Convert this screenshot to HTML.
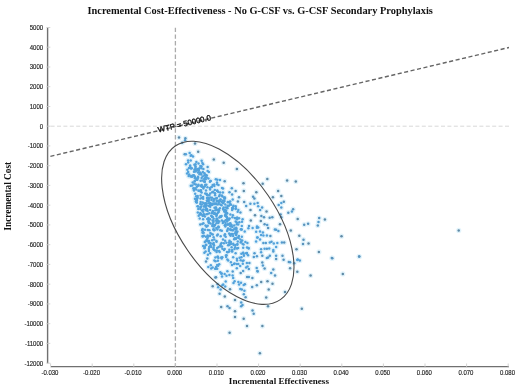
<!DOCTYPE html><html><head><meta charset="utf-8"><style>html,body{margin:0;padding:0;background:#fff;overflow:hidden}svg{display:block;will-change:transform}</style></head><body><svg width="520" height="390" viewBox="0 0 520 390"><rect width="520" height="390" fill="#fff"/><line x1="50.6" y1="126.2" x2="510.5" y2="126.2" stroke="#d8d8d8" stroke-width="1" stroke-dasharray="4 2.4"/><line x1="175.4" y1="27.7" x2="175.4" y2="366" stroke="#ababab" stroke-width="1.3" stroke-dasharray="4.4 2.31"/><g fill="#e2f3fb"><circle cx="179.0" cy="137.4" r="2.6"/><circle cx="185.4" cy="138.3" r="2.6"/><circle cx="185.1" cy="140.3" r="2.6"/><circle cx="182.2" cy="142.8" r="2.6"/><circle cx="195.0" cy="143.5" r="2.6"/><circle cx="198.2" cy="151.7" r="2.6"/><circle cx="213.8" cy="159.4" r="2.6"/><circle cx="223.7" cy="162.8" r="2.6"/><circle cx="187.1" cy="173.4" r="2.6"/><circle cx="236.9" cy="169.0" r="2.6"/><circle cx="267.3" cy="179.0" r="2.6"/><circle cx="243.5" cy="183.2" r="2.6"/><circle cx="243.8" cy="190.9" r="2.6"/><circle cx="256.3" cy="192.2" r="2.6"/><circle cx="262.7" cy="183.8" r="2.6"/><circle cx="278.1" cy="190.9" r="2.6"/><circle cx="287.1" cy="180.6" r="2.6"/><circle cx="253.1" cy="196.7" r="2.6"/><circle cx="254.4" cy="198.6" r="2.6"/><circle cx="272.9" cy="197.3" r="2.6"/><circle cx="281.3" cy="196.0" r="2.6"/><circle cx="254.4" cy="203.7" r="2.6"/><circle cx="257.6" cy="203.1" r="2.6"/><circle cx="278.7" cy="205.0" r="2.6"/><circle cx="281.3" cy="203.1" r="2.6"/><circle cx="283.8" cy="201.8" r="2.6"/><circle cx="258.2" cy="206.3" r="2.6"/><circle cx="281.3" cy="207.6" r="2.6"/><circle cx="262.1" cy="207.6" r="2.6"/><circle cx="260.1" cy="210.1" r="2.6"/><circle cx="266.5" cy="211.4" r="2.6"/><circle cx="261.4" cy="215.9" r="2.6"/><circle cx="264.0" cy="217.2" r="2.6"/><circle cx="269.7" cy="217.8" r="2.6"/><circle cx="272.3" cy="217.2" r="2.6"/><circle cx="280.6" cy="214.6" r="2.6"/><circle cx="288.3" cy="212.7" r="2.6"/><circle cx="281.3" cy="217.2" r="2.6"/><circle cx="260.8" cy="221.0" r="2.6"/><circle cx="264.6" cy="224.2" r="2.6"/><circle cx="267.2" cy="224.9" r="2.6"/><circle cx="280.0" cy="224.2" r="2.6"/><circle cx="258.2" cy="227.4" r="2.6"/><circle cx="274.9" cy="229.4" r="2.6"/><circle cx="260.0" cy="231.5" r="2.6"/><circle cx="262.9" cy="232.6" r="2.6"/><circle cx="268.1" cy="228.0" r="2.6"/><circle cx="276.1" cy="229.7" r="2.6"/><circle cx="278.4" cy="230.9" r="2.6"/><circle cx="261.1" cy="234.9" r="2.6"/><circle cx="263.4" cy="235.5" r="2.6"/><circle cx="266.9" cy="235.5" r="2.6"/><circle cx="270.4" cy="236.1" r="2.6"/><circle cx="260.0" cy="239.5" r="2.6"/><circle cx="263.4" cy="243.0" r="2.6"/><circle cx="265.8" cy="243.0" r="2.6"/><circle cx="269.8" cy="242.4" r="2.6"/><circle cx="271.5" cy="241.8" r="2.6"/><circle cx="273.8" cy="243.6" r="2.6"/><circle cx="277.3" cy="243.0" r="2.6"/><circle cx="281.9" cy="242.4" r="2.6"/><circle cx="284.2" cy="242.4" r="2.6"/><circle cx="276.1" cy="247.0" r="2.6"/><circle cx="261.1" cy="249.3" r="2.6"/><circle cx="264.6" cy="248.8" r="2.6"/><circle cx="266.9" cy="248.8" r="2.6"/><circle cx="269.2" cy="248.5" r="2.6"/><circle cx="273.3" cy="249.9" r="2.6"/><circle cx="273.3" cy="251.6" r="2.6"/><circle cx="261.1" cy="252.2" r="2.6"/><circle cx="262.3" cy="255.7" r="2.6"/><circle cx="268.1" cy="257.4" r="2.6"/><circle cx="269.8" cy="255.7" r="2.6"/><circle cx="276.1" cy="255.7" r="2.6"/><circle cx="282.5" cy="255.7" r="2.6"/><circle cx="266.9" cy="258.0" r="2.6"/><circle cx="276.1" cy="259.1" r="2.6"/><circle cx="283.6" cy="259.7" r="2.6"/><circle cx="262.3" cy="262.6" r="2.6"/><circle cx="262.9" cy="265.5" r="2.6"/><circle cx="288.8" cy="262.0" r="2.6"/><circle cx="264.6" cy="268.4" r="2.6"/><circle cx="273.3" cy="269.5" r="2.6"/><circle cx="212.7" cy="286.2" r="2.6"/><circle cx="244.4" cy="290.8" r="2.6"/><circle cx="219.6" cy="293.7" r="2.6"/><circle cx="224.8" cy="296.6" r="2.6"/><circle cx="243.8" cy="294.3" r="2.6"/><circle cx="245.6" cy="297.2" r="2.6"/><circle cx="271.2" cy="273.0" r="2.6"/><circle cx="275.0" cy="275.5" r="2.6"/><circle cx="261.2" cy="282.0" r="2.6"/><circle cx="267.5" cy="281.2" r="2.6"/><circle cx="272.5" cy="283.7" r="2.6"/><circle cx="268.7" cy="289.5" r="2.6"/><circle cx="266.2" cy="297.5" r="2.6"/><circle cx="285.0" cy="292.0" r="2.6"/><circle cx="235.0" cy="300.0" r="2.6"/><circle cx="241.2" cy="302.5" r="2.6"/><circle cx="221.2" cy="307.0" r="2.6"/><circle cx="227.5" cy="306.2" r="2.6"/><circle cx="229.5" cy="308.0" r="2.6"/><circle cx="241.2" cy="306.2" r="2.6"/><circle cx="242.5" cy="305.0" r="2.6"/><circle cx="268.0" cy="306.2" r="2.6"/><circle cx="235.0" cy="311.2" r="2.6"/><circle cx="252.5" cy="310.5" r="2.6"/><circle cx="253.7" cy="313.7" r="2.6"/><circle cx="235.0" cy="317.0" r="2.6"/><circle cx="243.7" cy="318.7" r="2.6"/><circle cx="247.0" cy="326.1" r="2.6"/><circle cx="262.4" cy="326.1" r="2.6"/><circle cx="229.6" cy="332.7" r="2.6"/><circle cx="259.9" cy="353.2" r="2.6"/><circle cx="295.8" cy="181.5" r="2.6"/><circle cx="293.1" cy="209.2" r="2.6"/><circle cx="291.9" cy="211.5" r="2.6"/><circle cx="297.7" cy="218.9" r="2.6"/><circle cx="319.2" cy="218.0" r="2.6"/><circle cx="324.9" cy="219.6" r="2.6"/><circle cx="318.5" cy="221.9" r="2.6"/><circle cx="304.2" cy="224.7" r="2.6"/><circle cx="308.1" cy="223.8" r="2.6"/><circle cx="317.8" cy="225.4" r="2.6"/><circle cx="290.8" cy="230.5" r="2.6"/><circle cx="299.3" cy="235.8" r="2.6"/><circle cx="341.5" cy="236.2" r="2.6"/><circle cx="303.5" cy="239.7" r="2.6"/><circle cx="303.0" cy="243.9" r="2.6"/><circle cx="308.5" cy="243.4" r="2.6"/><circle cx="296.5" cy="249.2" r="2.6"/><circle cx="318.9" cy="251.9" r="2.6"/><circle cx="332.3" cy="258.2" r="2.6"/><circle cx="297.7" cy="259.5" r="2.6"/><circle cx="290.1" cy="262.2" r="2.6"/><circle cx="294.2" cy="263.2" r="2.6"/><circle cx="297.3" cy="260.1" r="2.6"/><circle cx="299.8" cy="260.5" r="2.6"/><circle cx="290.1" cy="268.3" r="2.6"/><circle cx="297.3" cy="271.8" r="2.6"/><circle cx="310.6" cy="275.5" r="2.6"/><circle cx="331.8" cy="258.1" r="2.6"/><circle cx="359.3" cy="256.6" r="2.6"/><circle cx="342.8" cy="273.9" r="2.6"/><circle cx="301.8" cy="308.7" r="2.6"/><circle cx="458.7" cy="230.4" r="2.6"/><circle cx="359.1" cy="256.5" r="2.6"/><circle cx="244.7" cy="231.5" r="2.6"/><circle cx="212.7" cy="217.1" r="2.6"/><circle cx="209.0" cy="222.3" r="2.6"/><circle cx="235.6" cy="191.0" r="2.6"/><circle cx="225.9" cy="216.0" r="2.6"/><circle cx="209.8" cy="235.8" r="2.6"/><circle cx="243.5" cy="260.6" r="2.6"/><circle cx="222.4" cy="248.8" r="2.6"/><circle cx="233.2" cy="243.7" r="2.6"/><circle cx="221.7" cy="258.4" r="2.6"/><circle cx="208.8" cy="203.3" r="2.6"/><circle cx="209.2" cy="198.8" r="2.6"/><circle cx="204.8" cy="186.6" r="2.6"/><circle cx="202.7" cy="236.6" r="2.6"/><circle cx="208.9" cy="248.9" r="2.6"/><circle cx="210.2" cy="243.1" r="2.6"/><circle cx="196.2" cy="170.6" r="2.6"/><circle cx="204.6" cy="181.5" r="2.6"/><circle cx="221.7" cy="273.4" r="2.6"/><circle cx="211.2" cy="268.6" r="2.6"/><circle cx="233.2" cy="206.7" r="2.6"/><circle cx="234.7" cy="228.5" r="2.6"/><circle cx="223.9" cy="243.3" r="2.6"/><circle cx="233.2" cy="236.1" r="2.6"/><circle cx="231.0" cy="204.7" r="2.6"/><circle cx="209.9" cy="187.9" r="2.6"/><circle cx="212.8" cy="211.0" r="2.6"/><circle cx="229.4" cy="275.0" r="2.6"/><circle cx="214.3" cy="239.4" r="2.6"/><circle cx="205.7" cy="241.3" r="2.6"/><circle cx="235.7" cy="221.6" r="2.6"/><circle cx="198.2" cy="177.8" r="2.6"/><circle cx="217.2" cy="264.9" r="2.6"/><circle cx="228.0" cy="228.5" r="2.6"/><circle cx="203.4" cy="169.0" r="2.6"/><circle cx="208.4" cy="221.4" r="2.6"/><circle cx="203.7" cy="214.6" r="2.6"/><circle cx="213.9" cy="244.9" r="2.6"/><circle cx="209.9" cy="235.9" r="2.6"/><circle cx="201.4" cy="186.2" r="2.6"/><circle cx="200.6" cy="195.4" r="2.6"/><circle cx="244.9" cy="284.2" r="2.6"/><circle cx="218.1" cy="209.5" r="2.6"/><circle cx="211.2" cy="215.7" r="2.6"/><circle cx="201.3" cy="166.6" r="2.6"/><circle cx="238.7" cy="238.0" r="2.6"/><circle cx="200.6" cy="202.0" r="2.6"/><circle cx="207.4" cy="187.3" r="2.6"/><circle cx="194.0" cy="171.7" r="2.6"/><circle cx="224.9" cy="198.5" r="2.6"/><circle cx="234.0" cy="264.0" r="2.6"/><circle cx="207.3" cy="219.0" r="2.6"/><circle cx="193.0" cy="156.4" r="2.6"/><circle cx="211.6" cy="187.0" r="2.6"/><circle cx="209.4" cy="230.3" r="2.6"/><circle cx="236.8" cy="232.5" r="2.6"/><circle cx="205.3" cy="177.2" r="2.6"/><circle cx="208.9" cy="206.0" r="2.6"/><circle cx="243.1" cy="271.0" r="2.6"/><circle cx="206.8" cy="175.4" r="2.6"/><circle cx="191.0" cy="168.4" r="2.6"/><circle cx="219.1" cy="210.2" r="2.6"/><circle cx="236.8" cy="224.3" r="2.6"/><circle cx="199.8" cy="173.1" r="2.6"/><circle cx="238.3" cy="209.9" r="2.6"/><circle cx="203.9" cy="215.4" r="2.6"/><circle cx="212.3" cy="225.8" r="2.6"/><circle cx="218.3" cy="192.0" r="2.6"/><circle cx="210.7" cy="243.4" r="2.6"/><circle cx="237.1" cy="260.4" r="2.6"/><circle cx="193.8" cy="189.7" r="2.6"/><circle cx="217.4" cy="229.5" r="2.6"/><circle cx="200.0" cy="172.5" r="2.6"/><circle cx="203.1" cy="164.3" r="2.6"/><circle cx="247.1" cy="276.9" r="2.6"/><circle cx="192.9" cy="175.5" r="2.6"/><circle cx="190.8" cy="185.7" r="2.6"/><circle cx="219.2" cy="196.3" r="2.6"/><circle cx="216.5" cy="223.3" r="2.6"/><circle cx="227.5" cy="224.6" r="2.6"/><circle cx="234.2" cy="239.2" r="2.6"/><circle cx="231.3" cy="234.0" r="2.6"/><circle cx="198.3" cy="169.7" r="2.6"/><circle cx="198.6" cy="170.8" r="2.6"/><circle cx="256.2" cy="231.8" r="2.6"/><circle cx="204.8" cy="242.1" r="2.6"/><circle cx="213.1" cy="191.7" r="2.6"/><circle cx="201.0" cy="173.4" r="2.6"/><circle cx="236.5" cy="228.8" r="2.6"/><circle cx="211.9" cy="216.4" r="2.6"/><circle cx="213.5" cy="229.2" r="2.6"/><circle cx="200.4" cy="209.1" r="2.6"/><circle cx="216.0" cy="207.8" r="2.6"/><circle cx="206.6" cy="203.4" r="2.6"/><circle cx="207.1" cy="209.2" r="2.6"/><circle cx="233.5" cy="282.9" r="2.6"/><circle cx="248.8" cy="268.9" r="2.6"/><circle cx="210.7" cy="180.9" r="2.6"/><circle cx="201.2" cy="214.3" r="2.6"/><circle cx="202.6" cy="229.0" r="2.6"/><circle cx="194.4" cy="164.7" r="2.6"/><circle cx="217.7" cy="212.9" r="2.6"/><circle cx="227.5" cy="218.2" r="2.6"/><circle cx="228.1" cy="202.3" r="2.6"/><circle cx="201.7" cy="184.9" r="2.6"/><circle cx="234.5" cy="249.1" r="2.6"/><circle cx="240.6" cy="242.5" r="2.6"/><circle cx="216.5" cy="241.7" r="2.6"/><circle cx="226.1" cy="210.6" r="2.6"/><circle cx="189.0" cy="168.0" r="2.6"/><circle cx="241.7" cy="229.6" r="2.6"/><circle cx="204.4" cy="252.8" r="2.6"/><circle cx="227.8" cy="224.6" r="2.6"/><circle cx="222.0" cy="246.5" r="2.6"/><circle cx="227.4" cy="208.3" r="2.6"/><circle cx="195.9" cy="184.5" r="2.6"/><circle cx="212.2" cy="240.2" r="2.6"/><circle cx="242.6" cy="261.1" r="2.6"/><circle cx="196.4" cy="162.1" r="2.6"/><circle cx="190.7" cy="160.5" r="2.6"/><circle cx="221.2" cy="257.4" r="2.6"/><circle cx="224.6" cy="274.1" r="2.6"/><circle cx="199.7" cy="218.5" r="2.6"/><circle cx="213.6" cy="200.1" r="2.6"/><circle cx="196.8" cy="202.4" r="2.6"/><circle cx="203.4" cy="188.5" r="2.6"/><circle cx="222.4" cy="196.4" r="2.6"/><circle cx="239.1" cy="284.4" r="2.6"/><circle cx="197.0" cy="200.1" r="2.6"/><circle cx="201.6" cy="160.7" r="2.6"/><circle cx="256.9" cy="256.3" r="2.6"/><circle cx="220.0" cy="180.0" r="2.6"/><circle cx="221.4" cy="273.8" r="2.6"/><circle cx="220.6" cy="289.5" r="2.6"/><circle cx="192.0" cy="176.8" r="2.6"/><circle cx="233.2" cy="278.0" r="2.6"/><circle cx="241.4" cy="257.3" r="2.6"/><circle cx="220.3" cy="230.2" r="2.6"/><circle cx="234.6" cy="263.6" r="2.6"/><circle cx="212.1" cy="213.3" r="2.6"/><circle cx="234.2" cy="225.5" r="2.6"/><circle cx="227.4" cy="259.4" r="2.6"/><circle cx="201.6" cy="178.0" r="2.6"/><circle cx="185.9" cy="154.2" r="2.6"/><circle cx="225.1" cy="240.8" r="2.6"/><circle cx="225.0" cy="234.3" r="2.6"/><circle cx="214.0" cy="245.4" r="2.6"/><circle cx="215.5" cy="214.1" r="2.6"/><circle cx="197.7" cy="195.9" r="2.6"/><circle cx="225.0" cy="210.1" r="2.6"/><circle cx="192.3" cy="185.5" r="2.6"/><circle cx="200.3" cy="224.5" r="2.6"/><circle cx="203.6" cy="187.1" r="2.6"/><circle cx="196.9" cy="186.7" r="2.6"/><circle cx="212.9" cy="226.3" r="2.6"/><circle cx="200.3" cy="203.9" r="2.6"/><circle cx="232.9" cy="215.2" r="2.6"/><circle cx="201.4" cy="168.2" r="2.6"/><circle cx="232.7" cy="271.5" r="2.6"/><circle cx="246.1" cy="267.5" r="2.6"/><circle cx="243.7" cy="254.1" r="2.6"/><circle cx="243.2" cy="247.8" r="2.6"/><circle cx="223.1" cy="200.5" r="2.6"/><circle cx="208.3" cy="197.8" r="2.6"/><circle cx="237.1" cy="219.3" r="2.6"/><circle cx="199.5" cy="174.2" r="2.6"/><circle cx="204.9" cy="247.0" r="2.6"/><circle cx="256.1" cy="241.6" r="2.6"/><circle cx="222.0" cy="276.5" r="2.6"/><circle cx="226.6" cy="255.2" r="2.6"/><circle cx="249.0" cy="226.0" r="2.6"/><circle cx="206.7" cy="177.6" r="2.6"/><circle cx="214.7" cy="213.0" r="2.6"/><circle cx="198.8" cy="170.0" r="2.6"/><circle cx="203.2" cy="246.1" r="2.6"/><circle cx="214.8" cy="193.2" r="2.6"/><circle cx="218.9" cy="200.8" r="2.6"/><circle cx="195.0" cy="198.7" r="2.6"/><circle cx="214.6" cy="230.1" r="2.6"/><circle cx="223.5" cy="202.5" r="2.6"/><circle cx="232.1" cy="210.0" r="2.6"/><circle cx="256.7" cy="268.1" r="2.6"/><circle cx="234.6" cy="281.2" r="2.6"/><circle cx="186.0" cy="164.3" r="2.6"/><circle cx="202.4" cy="162.9" r="2.6"/><circle cx="205.9" cy="236.8" r="2.6"/><circle cx="195.6" cy="171.4" r="2.6"/><circle cx="201.6" cy="192.4" r="2.6"/><circle cx="212.6" cy="267.5" r="2.6"/><circle cx="194.4" cy="169.7" r="2.6"/><circle cx="198.3" cy="206.4" r="2.6"/><circle cx="238.1" cy="248.0" r="2.6"/><circle cx="205.9" cy="205.2" r="2.6"/><circle cx="224.3" cy="211.4" r="2.6"/><circle cx="241.8" cy="236.7" r="2.6"/><circle cx="238.3" cy="264.0" r="2.6"/><circle cx="190.1" cy="165.6" r="2.6"/><circle cx="227.7" cy="252.3" r="2.6"/><circle cx="247.5" cy="266.4" r="2.6"/><circle cx="232.2" cy="207.9" r="2.6"/><circle cx="246.6" cy="253.2" r="2.6"/><circle cx="236.1" cy="235.0" r="2.6"/><circle cx="231.7" cy="251.3" r="2.6"/><circle cx="243.5" cy="244.6" r="2.6"/><circle cx="221.6" cy="243.1" r="2.6"/><circle cx="202.7" cy="202.6" r="2.6"/><circle cx="227.4" cy="271.3" r="2.6"/><circle cx="241.4" cy="229.4" r="2.6"/><circle cx="206.1" cy="205.5" r="2.6"/><circle cx="228.2" cy="260.5" r="2.6"/><circle cx="236.8" cy="222.6" r="2.6"/><circle cx="225.1" cy="215.8" r="2.6"/><circle cx="214.0" cy="230.2" r="2.6"/><circle cx="208.4" cy="178.5" r="2.6"/><circle cx="218.9" cy="201.9" r="2.6"/><circle cx="230.2" cy="229.3" r="2.6"/><circle cx="198.1" cy="185.7" r="2.6"/><circle cx="240.3" cy="289.0" r="2.6"/><circle cx="218.7" cy="203.7" r="2.6"/><circle cx="200.5" cy="185.7" r="2.6"/><circle cx="197.5" cy="206.2" r="2.6"/><circle cx="223.2" cy="284.5" r="2.6"/><circle cx="218.7" cy="212.0" r="2.6"/><circle cx="207.8" cy="229.9" r="2.6"/><circle cx="205.8" cy="244.8" r="2.6"/><circle cx="223.2" cy="209.0" r="2.6"/><circle cx="214.3" cy="186.0" r="2.6"/><circle cx="206.1" cy="210.3" r="2.6"/><circle cx="246.9" cy="263.1" r="2.6"/><circle cx="229.4" cy="249.7" r="2.6"/><circle cx="220.4" cy="199.4" r="2.6"/><circle cx="232.2" cy="249.9" r="2.6"/><circle cx="217.9" cy="256.7" r="2.6"/><circle cx="198.3" cy="209.1" r="2.6"/><circle cx="236.9" cy="258.8" r="2.6"/><circle cx="207.5" cy="201.3" r="2.6"/><circle cx="200.9" cy="190.5" r="2.6"/><circle cx="230.9" cy="241.9" r="2.6"/><circle cx="246.2" cy="205.9" r="2.6"/><circle cx="187.4" cy="169.7" r="2.6"/><circle cx="229.0" cy="242.4" r="2.6"/><circle cx="216.7" cy="200.6" r="2.6"/><circle cx="229.1" cy="244.6" r="2.6"/><circle cx="231.8" cy="188.3" r="2.6"/><circle cx="200.8" cy="190.6" r="2.6"/><circle cx="210.5" cy="245.2" r="2.6"/><circle cx="229.5" cy="192.2" r="2.6"/><circle cx="207.3" cy="195.3" r="2.6"/><circle cx="225.5" cy="207.4" r="2.6"/><circle cx="236.4" cy="234.0" r="2.6"/><circle cx="189.2" cy="174.4" r="2.6"/><circle cx="202.0" cy="210.6" r="2.6"/><circle cx="199.4" cy="168.2" r="2.6"/><circle cx="223.0" cy="203.2" r="2.6"/><circle cx="198.4" cy="184.7" r="2.6"/><circle cx="209.2" cy="247.1" r="2.6"/><circle cx="228.1" cy="245.3" r="2.6"/><circle cx="227.8" cy="202.1" r="2.6"/><circle cx="203.2" cy="211.8" r="2.6"/><circle cx="232.5" cy="208.9" r="2.6"/><circle cx="241.0" cy="282.7" r="2.6"/><circle cx="206.6" cy="239.9" r="2.6"/><circle cx="235.3" cy="245.1" r="2.6"/><circle cx="221.6" cy="215.9" r="2.6"/><circle cx="202.3" cy="224.1" r="2.6"/><circle cx="237.0" cy="248.5" r="2.6"/><circle cx="215.1" cy="195.3" r="2.6"/><circle cx="206.4" cy="184.7" r="2.6"/><circle cx="218.4" cy="210.8" r="2.6"/><circle cx="223.0" cy="188.6" r="2.6"/><circle cx="235.2" cy="247.3" r="2.6"/><circle cx="195.6" cy="169.8" r="2.6"/><circle cx="216.4" cy="216.0" r="2.6"/><circle cx="204.2" cy="181.6" r="2.6"/><circle cx="205.7" cy="203.8" r="2.6"/><circle cx="214.0" cy="249.7" r="2.6"/><circle cx="210.2" cy="203.0" r="2.6"/><circle cx="217.5" cy="256.8" r="2.6"/><circle cx="208.8" cy="242.9" r="2.6"/><circle cx="241.8" cy="225.9" r="2.6"/><circle cx="225.2" cy="286.4" r="2.6"/><circle cx="232.9" cy="208.2" r="2.6"/><circle cx="209.0" cy="241.1" r="2.6"/><circle cx="237.1" cy="217.6" r="2.6"/><circle cx="213.5" cy="247.5" r="2.6"/><circle cx="233.5" cy="205.8" r="2.6"/><circle cx="197.8" cy="169.0" r="2.6"/><circle cx="213.7" cy="218.8" r="2.6"/><circle cx="212.8" cy="234.5" r="2.6"/><circle cx="216.8" cy="250.5" r="2.6"/><circle cx="224.7" cy="249.0" r="2.6"/><circle cx="207.7" cy="240.8" r="2.6"/><circle cx="223.2" cy="209.4" r="2.6"/><circle cx="248.1" cy="255.2" r="2.6"/><circle cx="204.5" cy="173.2" r="2.6"/><circle cx="225.8" cy="211.4" r="2.6"/><circle cx="200.5" cy="198.5" r="2.6"/><circle cx="206.3" cy="244.9" r="2.6"/><circle cx="211.9" cy="204.9" r="2.6"/><circle cx="195.0" cy="177.5" r="2.6"/><circle cx="188.6" cy="176.1" r="2.6"/><circle cx="232.0" cy="264.9" r="2.6"/><circle cx="238.2" cy="224.5" r="2.6"/><circle cx="196.4" cy="179.8" r="2.6"/><circle cx="210.1" cy="253.3" r="2.6"/><circle cx="232.4" cy="217.2" r="2.6"/><circle cx="246.3" cy="253.3" r="2.6"/><circle cx="206.9" cy="200.6" r="2.6"/><circle cx="205.7" cy="179.2" r="2.6"/><circle cx="253.8" cy="256.9" r="2.6"/><circle cx="213.8" cy="198.9" r="2.6"/><circle cx="227.0" cy="252.0" r="2.6"/><circle cx="206.0" cy="190.5" r="2.6"/><circle cx="235.6" cy="253.3" r="2.6"/><circle cx="202.7" cy="176.4" r="2.6"/><circle cx="205.5" cy="225.6" r="2.6"/><circle cx="190.3" cy="166.8" r="2.6"/><circle cx="211.6" cy="187.0" r="2.6"/><circle cx="214.2" cy="214.1" r="2.6"/><circle cx="245.4" cy="242.0" r="2.6"/><circle cx="217.0" cy="182.6" r="2.6"/><circle cx="247.0" cy="247.5" r="2.6"/><circle cx="252.4" cy="277.9" r="2.6"/><circle cx="217.8" cy="220.5" r="2.6"/><circle cx="209.2" cy="195.2" r="2.6"/><circle cx="200.6" cy="180.7" r="2.6"/><circle cx="217.2" cy="248.1" r="2.6"/><circle cx="226.4" cy="242.8" r="2.6"/><circle cx="215.8" cy="268.8" r="2.6"/><circle cx="204.2" cy="179.0" r="2.6"/><circle cx="206.4" cy="208.6" r="2.6"/><circle cx="246.8" cy="253.2" r="2.6"/><circle cx="217.1" cy="184.3" r="2.6"/><circle cx="197.2" cy="198.2" r="2.6"/><circle cx="252.6" cy="227.9" r="2.6"/><circle cx="215.8" cy="203.4" r="2.6"/><circle cx="226.8" cy="217.3" r="2.6"/><circle cx="243.1" cy="252.8" r="2.6"/><circle cx="225.9" cy="255.6" r="2.6"/><circle cx="220.0" cy="201.2" r="2.6"/><circle cx="239.0" cy="218.3" r="2.6"/><circle cx="243.2" cy="252.9" r="2.6"/><circle cx="212.7" cy="184.9" r="2.6"/><circle cx="209.3" cy="213.2" r="2.6"/><circle cx="204.1" cy="203.6" r="2.6"/><circle cx="223.0" cy="239.4" r="2.6"/><circle cx="216.0" cy="277.3" r="2.6"/><circle cx="203.4" cy="223.3" r="2.6"/><circle cx="208.5" cy="218.1" r="2.6"/><circle cx="219.2" cy="264.2" r="2.6"/><circle cx="214.6" cy="203.6" r="2.6"/><circle cx="229.7" cy="218.4" r="2.6"/><circle cx="204.5" cy="248.2" r="2.6"/><circle cx="198.1" cy="169.9" r="2.6"/><circle cx="227.6" cy="205.8" r="2.6"/><circle cx="207.7" cy="225.8" r="2.6"/><circle cx="228.9" cy="251.8" r="2.6"/><circle cx="241.4" cy="253.7" r="2.6"/><circle cx="239.3" cy="222.2" r="2.6"/><circle cx="225.8" cy="212.4" r="2.6"/><circle cx="215.9" cy="207.5" r="2.6"/><circle cx="201.3" cy="174.6" r="2.6"/><circle cx="203.7" cy="232.7" r="2.6"/><circle cx="249.4" cy="263.1" r="2.6"/><circle cx="203.8" cy="206.5" r="2.6"/><circle cx="214.0" cy="199.4" r="2.6"/><circle cx="202.6" cy="236.0" r="2.6"/><circle cx="205.5" cy="203.2" r="2.6"/><circle cx="198.8" cy="190.7" r="2.6"/><circle cx="207.6" cy="235.4" r="2.6"/><circle cx="227.1" cy="207.6" r="2.6"/><circle cx="194.0" cy="190.6" r="2.6"/><circle cx="242.6" cy="219.3" r="2.6"/><circle cx="204.9" cy="216.6" r="2.6"/><circle cx="215.7" cy="198.6" r="2.6"/><circle cx="198.0" cy="176.7" r="2.6"/><circle cx="240.8" cy="229.3" r="2.6"/><circle cx="200.5" cy="207.2" r="2.6"/><circle cx="233.2" cy="257.3" r="2.6"/><circle cx="216.6" cy="210.1" r="2.6"/><circle cx="218.5" cy="226.7" r="2.6"/><circle cx="208.0" cy="236.7" r="2.6"/><circle cx="248.4" cy="228.3" r="2.6"/><circle cx="199.8" cy="214.2" r="2.6"/><circle cx="236.8" cy="264.0" r="2.6"/><circle cx="224.1" cy="221.5" r="2.6"/><circle cx="232.1" cy="194.6" r="2.6"/><circle cx="237.4" cy="244.0" r="2.6"/><circle cx="215.4" cy="277.4" r="2.6"/><circle cx="243.7" cy="284.9" r="2.6"/><circle cx="238.4" cy="282.0" r="2.6"/><circle cx="207.4" cy="238.4" r="2.6"/><circle cx="218.1" cy="265.8" r="2.6"/><circle cx="195.5" cy="167.8" r="2.6"/><circle cx="219.1" cy="251.0" r="2.6"/><circle cx="213.0" cy="211.7" r="2.6"/><circle cx="254.5" cy="253.2" r="2.6"/><circle cx="194.9" cy="178.2" r="2.6"/><circle cx="205.0" cy="229.8" r="2.6"/><circle cx="255.0" cy="215.3" r="2.6"/><circle cx="235.6" cy="208.9" r="2.6"/><circle cx="194.3" cy="184.0" r="2.6"/><circle cx="222.4" cy="285.3" r="2.6"/><circle cx="224.5" cy="235.4" r="2.6"/><circle cx="196.3" cy="178.5" r="2.6"/><circle cx="200.7" cy="190.5" r="2.6"/><circle cx="195.2" cy="193.8" r="2.6"/><circle cx="218.6" cy="246.9" r="2.6"/><circle cx="208.3" cy="267.0" r="2.6"/><circle cx="252.2" cy="287.1" r="2.6"/><circle cx="247.4" cy="243.1" r="2.6"/><circle cx="231.2" cy="229.8" r="2.6"/><circle cx="232.8" cy="234.1" r="2.6"/><circle cx="235.7" cy="206.3" r="2.6"/><circle cx="220.3" cy="272.3" r="2.6"/><circle cx="218.1" cy="221.1" r="2.6"/><circle cx="217.1" cy="191.1" r="2.6"/><circle cx="242.2" cy="240.5" r="2.6"/><circle cx="228.9" cy="205.7" r="2.6"/><circle cx="198.5" cy="163.5" r="2.6"/><circle cx="242.0" cy="221.8" r="2.6"/><circle cx="215.0" cy="224.9" r="2.6"/><circle cx="201.8" cy="204.5" r="2.6"/><circle cx="195.8" cy="199.5" r="2.6"/><circle cx="223.5" cy="207.4" r="2.6"/><circle cx="257.7" cy="271.5" r="2.6"/><circle cx="244.2" cy="201.9" r="2.6"/><circle cx="235.1" cy="233.6" r="2.6"/><circle cx="235.8" cy="238.9" r="2.6"/><circle cx="240.7" cy="273.0" r="2.6"/><circle cx="217.8" cy="234.5" r="2.6"/><circle cx="227.5" cy="230.1" r="2.6"/><circle cx="221.9" cy="202.1" r="2.6"/><circle cx="224.8" cy="225.3" r="2.6"/><circle cx="218.4" cy="257.9" r="2.6"/><circle cx="216.7" cy="221.6" r="2.6"/><circle cx="215.0" cy="193.5" r="2.6"/><circle cx="197.2" cy="179.1" r="2.6"/><circle cx="206.4" cy="214.2" r="2.6"/><circle cx="204.0" cy="246.5" r="2.6"/><circle cx="231.3" cy="225.5" r="2.6"/><circle cx="243.9" cy="255.8" r="2.6"/><circle cx="235.2" cy="238.6" r="2.6"/><circle cx="208.2" cy="199.8" r="2.6"/><circle cx="207.3" cy="258.6" r="2.6"/><circle cx="215.3" cy="210.2" r="2.6"/><circle cx="213.1" cy="244.1" r="2.6"/><circle cx="216.6" cy="252.1" r="2.6"/><circle cx="222.3" cy="257.3" r="2.6"/><circle cx="220.2" cy="192.5" r="2.6"/><circle cx="197.4" cy="179.7" r="2.6"/><circle cx="227.2" cy="231.1" r="2.6"/><circle cx="193.4" cy="188.2" r="2.6"/><circle cx="235.5" cy="232.1" r="2.6"/><circle cx="214.0" cy="226.6" r="2.6"/><circle cx="225.6" cy="224.9" r="2.6"/><circle cx="214.8" cy="189.9" r="2.6"/><circle cx="257.2" cy="237.4" r="2.6"/><circle cx="210.8" cy="265.3" r="2.6"/><circle cx="206.0" cy="261.4" r="2.6"/><circle cx="242.5" cy="243.8" r="2.6"/><circle cx="237.3" cy="244.8" r="2.6"/><circle cx="203.8" cy="214.3" r="2.6"/><circle cx="210.6" cy="204.3" r="2.6"/><circle cx="216.9" cy="201.6" r="2.6"/><circle cx="227.3" cy="221.4" r="2.6"/><circle cx="206.6" cy="193.8" r="2.6"/><circle cx="217.9" cy="200.9" r="2.6"/><circle cx="220.7" cy="236.2" r="2.6"/><circle cx="196.3" cy="189.6" r="2.6"/><circle cx="195.6" cy="168.8" r="2.6"/><circle cx="194.8" cy="176.5" r="2.6"/><circle cx="204.4" cy="175.2" r="2.6"/><circle cx="232.6" cy="275.4" r="2.6"/><circle cx="205.4" cy="209.4" r="2.6"/><circle cx="212.1" cy="203.8" r="2.6"/><circle cx="229.2" cy="233.5" r="2.6"/><circle cx="212.2" cy="217.1" r="2.6"/><circle cx="205.6" cy="207.0" r="2.6"/><circle cx="224.5" cy="201.1" r="2.6"/><circle cx="200.4" cy="213.1" r="2.6"/><circle cx="212.1" cy="212.6" r="2.6"/><circle cx="216.1" cy="266.9" r="2.6"/><circle cx="246.9" cy="253.0" r="2.6"/><circle cx="208.6" cy="220.0" r="2.6"/><circle cx="212.0" cy="197.7" r="2.6"/><circle cx="230.4" cy="223.3" r="2.6"/><circle cx="230.0" cy="289.2" r="2.6"/><circle cx="224.5" cy="211.2" r="2.6"/><circle cx="232.7" cy="199.5" r="2.6"/><circle cx="214.5" cy="207.8" r="2.6"/><circle cx="209.9" cy="181.7" r="2.6"/><circle cx="240.2" cy="266.0" r="2.6"/><circle cx="230.2" cy="201.5" r="2.6"/><circle cx="208.9" cy="171.9" r="2.6"/><circle cx="230.7" cy="235.8" r="2.6"/><circle cx="213.8" cy="204.2" r="2.6"/><circle cx="227.0" cy="212.9" r="2.6"/><circle cx="202.8" cy="171.9" r="2.6"/><circle cx="222.9" cy="192.6" r="2.6"/><circle cx="256.9" cy="227.8" r="2.6"/><circle cx="232.1" cy="230.3" r="2.6"/><circle cx="232.3" cy="251.5" r="2.6"/><circle cx="208.9" cy="222.9" r="2.6"/><circle cx="203.9" cy="235.8" r="2.6"/><circle cx="236.1" cy="229.7" r="2.6"/><circle cx="206.5" cy="226.8" r="2.6"/><circle cx="210.2" cy="210.1" r="2.6"/><circle cx="216.5" cy="218.8" r="2.6"/><circle cx="229.0" cy="224.5" r="2.6"/><circle cx="220.9" cy="217.1" r="2.6"/><circle cx="226.5" cy="275.7" r="2.6"/><circle cx="257.4" cy="271.0" r="2.6"/><circle cx="221.9" cy="195.5" r="2.6"/><circle cx="215.8" cy="179.3" r="2.6"/><circle cx="231.6" cy="247.3" r="2.6"/><circle cx="241.1" cy="241.8" r="2.6"/><circle cx="215.4" cy="257.6" r="2.6"/><circle cx="201.8" cy="186.7" r="2.6"/><circle cx="212.6" cy="220.6" r="2.6"/><circle cx="207.3" cy="195.0" r="2.6"/><circle cx="216.2" cy="204.2" r="2.6"/><circle cx="217.1" cy="235.5" r="2.6"/><circle cx="207.6" cy="166.9" r="2.6"/><circle cx="195.9" cy="201.2" r="2.6"/><circle cx="191.4" cy="155.2" r="2.6"/><circle cx="202.7" cy="215.9" r="2.6"/><circle cx="194.7" cy="181.1" r="2.6"/><circle cx="220.3" cy="216.2" r="2.6"/><circle cx="236.8" cy="268.2" r="2.6"/><circle cx="206.0" cy="175.1" r="2.6"/><circle cx="257.6" cy="237.5" r="2.6"/><circle cx="220.3" cy="245.4" r="2.6"/><circle cx="212.2" cy="192.3" r="2.6"/><circle cx="198.6" cy="190.7" r="2.6"/><circle cx="210.4" cy="232.9" r="2.6"/><circle cx="233.1" cy="230.3" r="2.6"/><circle cx="203.3" cy="209.6" r="2.6"/><circle cx="234.8" cy="218.0" r="2.6"/><circle cx="237.4" cy="231.4" r="2.6"/><circle cx="227.2" cy="213.6" r="2.6"/><circle cx="189.6" cy="167.7" r="2.6"/><circle cx="220.7" cy="199.8" r="2.6"/><circle cx="198.7" cy="215.7" r="2.6"/><circle cx="248.5" cy="247.9" r="2.6"/><circle cx="256.8" cy="285.3" r="2.6"/><circle cx="196.1" cy="202.0" r="2.6"/><circle cx="224.0" cy="249.9" r="2.6"/><circle cx="202.4" cy="180.4" r="2.6"/><circle cx="192.7" cy="182.6" r="2.6"/><circle cx="229.7" cy="223.7" r="2.6"/><circle cx="214.2" cy="184.6" r="2.6"/><circle cx="238.9" cy="235.9" r="2.6"/><circle cx="193.9" cy="175.3" r="2.6"/><circle cx="230.8" cy="226.3" r="2.6"/><circle cx="226.4" cy="220.6" r="2.6"/><circle cx="210.2" cy="193.4" r="2.6"/><circle cx="230.8" cy="244.0" r="2.6"/><circle cx="202.6" cy="232.7" r="2.6"/><circle cx="202.2" cy="230.3" r="2.6"/><circle cx="200.6" cy="191.6" r="2.6"/><circle cx="210.5" cy="223.6" r="2.6"/><circle cx="213.6" cy="221.1" r="2.6"/><circle cx="239.6" cy="257.8" r="2.6"/><circle cx="227.2" cy="219.4" r="2.6"/><circle cx="257.0" cy="226.5" r="2.6"/><circle cx="225.4" cy="226.6" r="2.6"/><circle cx="201.0" cy="214.5" r="2.6"/><circle cx="203.1" cy="197.1" r="2.6"/><circle cx="230.5" cy="230.0" r="2.6"/><circle cx="221.5" cy="205.2" r="2.6"/><circle cx="204.5" cy="206.3" r="2.6"/><circle cx="213.6" cy="237.2" r="2.6"/><circle cx="203.3" cy="236.0" r="2.6"/><circle cx="201.3" cy="166.4" r="2.6"/><circle cx="205.2" cy="193.6" r="2.6"/><circle cx="210.0" cy="219.3" r="2.6"/><circle cx="219.6" cy="251.9" r="2.6"/><circle cx="197.5" cy="197.5" r="2.6"/><circle cx="233.6" cy="245.1" r="2.6"/><circle cx="189.6" cy="152.9" r="2.6"/><circle cx="230.2" cy="203.9" r="2.6"/><circle cx="240.4" cy="239.6" r="2.6"/><circle cx="202.8" cy="231.9" r="2.6"/><circle cx="220.3" cy="204.6" r="2.6"/><circle cx="190.7" cy="155.7" r="2.6"/><circle cx="219.3" cy="217.5" r="2.6"/><circle cx="206.7" cy="205.5" r="2.6"/><circle cx="211.4" cy="200.0" r="2.6"/><circle cx="203.2" cy="198.8" r="2.6"/><circle cx="196.1" cy="196.3" r="2.6"/><circle cx="205.6" cy="251.4" r="2.6"/><circle cx="218.3" cy="222.9" r="2.6"/><circle cx="240.4" cy="212.4" r="2.6"/><circle cx="228.9" cy="219.8" r="2.6"/><circle cx="214.4" cy="260.6" r="2.6"/><circle cx="224.7" cy="181.2" r="2.6"/><circle cx="229.5" cy="240.8" r="2.6"/><circle cx="235.6" cy="218.2" r="2.6"/><circle cx="197.8" cy="212.4" r="2.6"/><circle cx="202.3" cy="229.9" r="2.6"/><circle cx="224.5" cy="198.5" r="2.6"/><circle cx="213.3" cy="222.6" r="2.6"/><circle cx="230.4" cy="226.2" r="2.6"/><circle cx="225.5" cy="214.3" r="2.6"/><circle cx="235.9" cy="208.3" r="2.6"/><circle cx="200.3" cy="166.0" r="2.6"/><circle cx="208.9" cy="251.1" r="2.6"/><circle cx="229.9" cy="234.7" r="2.6"/><circle cx="213.6" cy="229.5" r="2.6"/><circle cx="196.6" cy="202.2" r="2.6"/><circle cx="220.8" cy="243.9" r="2.6"/><circle cx="234.5" cy="228.9" r="2.6"/><circle cx="216.9" cy="198.1" r="2.6"/><circle cx="234.8" cy="238.3" r="2.6"/><circle cx="237.7" cy="211.8" r="2.6"/><circle cx="225.5" cy="223.0" r="2.6"/><circle cx="216.8" cy="214.7" r="2.6"/><circle cx="210.4" cy="197.6" r="2.6"/><circle cx="248.8" cy="276.9" r="2.6"/><circle cx="237.9" cy="201.5" r="2.6"/><circle cx="215.5" cy="261.2" r="2.6"/><circle cx="213.4" cy="248.9" r="2.6"/><circle cx="215.0" cy="250.6" r="2.6"/><circle cx="218.2" cy="287.2" r="2.6"/><circle cx="241.8" cy="289.6" r="2.6"/><circle cx="198.0" cy="172.4" r="2.6"/><circle cx="215.1" cy="268.8" r="2.6"/><circle cx="207.9" cy="254.8" r="2.6"/><circle cx="206.6" cy="194.6" r="2.6"/><circle cx="207.6" cy="171.1" r="2.6"/><circle cx="219.7" cy="195.1" r="2.6"/><circle cx="195.1" cy="188.3" r="2.6"/><circle cx="230.5" cy="244.0" r="2.6"/><circle cx="217.8" cy="204.5" r="2.6"/><circle cx="250.5" cy="210.1" r="2.6"/><circle cx="240.7" cy="260.2" r="2.6"/><circle cx="236.2" cy="227.7" r="2.6"/><circle cx="188.2" cy="172.1" r="2.6"/><circle cx="237.3" cy="237.5" r="2.6"/><circle cx="191.8" cy="168.2" r="2.6"/><circle cx="225.3" cy="204.5" r="2.6"/><circle cx="239.0" cy="197.3" r="2.6"/><circle cx="210.2" cy="206.7" r="2.6"/><circle cx="216.3" cy="228.1" r="2.6"/><circle cx="218.6" cy="227.5" r="2.6"/><circle cx="210.1" cy="189.4" r="2.6"/><circle cx="220.7" cy="246.5" r="2.6"/><circle cx="190.6" cy="176.6" r="2.6"/><circle cx="230.4" cy="214.6" r="2.6"/><circle cx="209.9" cy="205.2" r="2.6"/><circle cx="217.2" cy="268.8" r="2.6"/><circle cx="213.6" cy="243.0" r="2.6"/><circle cx="217.9" cy="260.7" r="2.6"/><circle cx="230.9" cy="262.2" r="2.6"/><circle cx="194.7" cy="181.4" r="2.6"/><circle cx="210.3" cy="180.9" r="2.6"/><circle cx="223.2" cy="222.0" r="2.6"/><circle cx="250.8" cy="220.4" r="2.6"/><circle cx="184.7" cy="154.3" r="2.6"/><circle cx="201.1" cy="206.5" r="2.6"/><circle cx="207.7" cy="218.9" r="2.6"/><circle cx="188.1" cy="160.4" r="2.6"/><circle cx="212.8" cy="224.3" r="2.6"/><circle cx="224.2" cy="197.5" r="2.6"/><circle cx="237.8" cy="241.5" r="2.6"/><circle cx="229.3" cy="201.9" r="2.6"/><circle cx="195.5" cy="166.2" r="2.6"/><circle cx="218.5" cy="185.0" r="2.6"/><circle cx="225.1" cy="210.9" r="2.6"/><circle cx="250.4" cy="203.7" r="2.6"/><circle cx="232.4" cy="227.0" r="2.6"/><circle cx="207.6" cy="214.0" r="2.6"/><circle cx="217.3" cy="190.6" r="2.6"/><circle cx="216.4" cy="240.9" r="2.6"/><circle cx="221.8" cy="230.8" r="2.6"/><circle cx="195.5" cy="164.2" r="2.6"/><circle cx="217.1" cy="218.8" r="2.6"/><circle cx="213.5" cy="201.4" r="2.6"/><circle cx="204.8" cy="181.7" r="2.6"/><circle cx="226.1" cy="256.9" r="2.6"/><circle cx="225.6" cy="220.2" r="2.6"/><circle cx="207.6" cy="211.1" r="2.6"/><circle cx="207.0" cy="197.9" r="2.6"/><circle cx="217.6" cy="284.2" r="2.6"/><circle cx="216.6" cy="214.2" r="2.6"/><circle cx="205.2" cy="184.8" r="2.6"/><circle cx="216.2" cy="220.5" r="2.6"/><circle cx="211.9" cy="204.6" r="2.6"/><circle cx="225.7" cy="281.6" r="2.6"/><circle cx="224.9" cy="197.5" r="2.6"/><circle cx="191.1" cy="176.1" r="2.6"/><circle cx="203.1" cy="219.3" r="2.6"/><circle cx="242.8" cy="263.7" r="2.6"/><circle cx="229.1" cy="244.9" r="2.6"/><circle cx="226.6" cy="216.6" r="2.6"/><circle cx="211.6" cy="234.0" r="2.6"/><circle cx="205.1" cy="203.9" r="2.6"/><circle cx="188.2" cy="162.4" r="2.6"/><circle cx="222.8" cy="223.1" r="2.6"/><circle cx="218.3" cy="226.7" r="2.6"/><circle cx="219.3" cy="221.4" r="2.6"/><circle cx="225.7" cy="236.7" r="2.6"/><circle cx="202.3" cy="186.4" r="2.6"/><circle cx="221.9" cy="220.5" r="2.6"/><circle cx="207.6" cy="241.3" r="2.6"/><circle cx="248.7" cy="248.4" r="2.6"/><circle cx="202.1" cy="197.7" r="2.6"/><circle cx="219.9" cy="208.3" r="2.6"/><circle cx="208.8" cy="201.0" r="2.6"/><circle cx="222.0" cy="188.0" r="2.6"/><circle cx="217.4" cy="179.8" r="2.6"/><circle cx="231.5" cy="225.0" r="2.6"/><circle cx="192.3" cy="175.9" r="2.6"/><circle cx="211.1" cy="247.0" r="2.6"/></g><g fill="#5f8aa6"><circle cx="179.0" cy="137.4" r="1.25"/><circle cx="195.0" cy="143.5" r="1.25"/><circle cx="198.2" cy="151.7" r="1.25"/><circle cx="213.8" cy="159.4" r="1.25"/><circle cx="223.7" cy="162.8" r="1.25"/><circle cx="236.9" cy="169.0" r="1.25"/><circle cx="267.3" cy="179.0" r="1.25"/><circle cx="243.5" cy="183.2" r="1.25"/><circle cx="243.8" cy="190.9" r="1.25"/><circle cx="256.3" cy="192.2" r="1.25"/><circle cx="262.7" cy="183.8" r="1.25"/><circle cx="278.1" cy="190.9" r="1.25"/><circle cx="287.1" cy="180.6" r="1.25"/><circle cx="272.9" cy="197.3" r="1.25"/><circle cx="281.3" cy="196.0" r="1.25"/><circle cx="266.5" cy="211.4" r="1.25"/><circle cx="260.8" cy="221.0" r="1.25"/><circle cx="280.0" cy="224.2" r="1.25"/><circle cx="212.7" cy="286.2" r="1.25"/><circle cx="224.8" cy="296.6" r="1.25"/><circle cx="261.2" cy="282.0" r="1.25"/><circle cx="267.5" cy="281.2" r="1.25"/><circle cx="272.5" cy="283.7" r="1.25"/><circle cx="268.7" cy="289.5" r="1.25"/><circle cx="266.2" cy="297.5" r="1.25"/><circle cx="285.0" cy="292.0" r="1.25"/><circle cx="235.0" cy="300.0" r="1.25"/><circle cx="221.2" cy="307.0" r="1.25"/><circle cx="268.0" cy="306.2" r="1.25"/><circle cx="235.0" cy="311.2" r="1.25"/><circle cx="235.0" cy="317.0" r="1.25"/><circle cx="243.7" cy="318.7" r="1.25"/><circle cx="247.0" cy="326.1" r="1.25"/><circle cx="262.4" cy="326.1" r="1.25"/><circle cx="229.6" cy="332.7" r="1.25"/><circle cx="259.9" cy="353.2" r="1.25"/><circle cx="295.8" cy="181.5" r="1.25"/><circle cx="297.7" cy="218.9" r="1.25"/><circle cx="324.9" cy="219.6" r="1.25"/><circle cx="290.8" cy="230.5" r="1.25"/><circle cx="299.3" cy="235.8" r="1.25"/><circle cx="341.5" cy="236.2" r="1.25"/><circle cx="308.5" cy="243.4" r="1.25"/><circle cx="296.5" cy="249.2" r="1.25"/><circle cx="318.9" cy="251.9" r="1.25"/><circle cx="290.1" cy="268.3" r="1.25"/><circle cx="297.3" cy="271.8" r="1.25"/><circle cx="310.6" cy="275.5" r="1.25"/><circle cx="342.8" cy="273.9" r="1.25"/><circle cx="301.8" cy="308.7" r="1.25"/><circle cx="458.7" cy="230.4" r="1.25"/><circle cx="255.0" cy="215.3" r="1.25"/><circle cx="230.0" cy="289.2" r="1.25"/><circle cx="250.5" cy="210.1" r="1.25"/><circle cx="250.8" cy="220.4" r="1.25"/></g><g fill="#5893bd"><circle cx="185.4" cy="138.3" r="1.25"/><circle cx="182.2" cy="142.8" r="1.25"/><circle cx="253.1" cy="196.7" r="1.25"/><circle cx="254.4" cy="198.6" r="1.25"/><circle cx="283.8" cy="201.8" r="1.25"/><circle cx="261.4" cy="215.9" r="1.25"/><circle cx="264.0" cy="217.2" r="1.25"/><circle cx="269.7" cy="217.8" r="1.25"/><circle cx="272.3" cy="217.2" r="1.25"/><circle cx="280.6" cy="214.6" r="1.25"/><circle cx="288.3" cy="212.7" r="1.25"/><circle cx="281.3" cy="217.2" r="1.25"/><circle cx="264.6" cy="224.2" r="1.25"/><circle cx="268.1" cy="228.0" r="1.25"/><circle cx="270.4" cy="236.1" r="1.25"/><circle cx="284.2" cy="242.4" r="1.25"/><circle cx="262.3" cy="255.7" r="1.25"/><circle cx="282.5" cy="255.7" r="1.25"/><circle cx="276.1" cy="259.1" r="1.25"/><circle cx="283.6" cy="259.7" r="1.25"/><circle cx="262.3" cy="262.6" r="1.25"/><circle cx="288.8" cy="262.0" r="1.25"/><circle cx="264.6" cy="268.4" r="1.25"/><circle cx="273.3" cy="269.5" r="1.25"/><circle cx="219.6" cy="293.7" r="1.25"/><circle cx="245.6" cy="297.2" r="1.25"/><circle cx="275.0" cy="275.5" r="1.25"/><circle cx="227.5" cy="306.2" r="1.25"/><circle cx="229.5" cy="308.0" r="1.25"/><circle cx="252.5" cy="310.5" r="1.25"/><circle cx="253.7" cy="313.7" r="1.25"/><circle cx="293.1" cy="209.2" r="1.25"/><circle cx="319.2" cy="218.0" r="1.25"/><circle cx="304.2" cy="224.7" r="1.25"/><circle cx="308.1" cy="223.8" r="1.25"/><circle cx="317.8" cy="225.4" r="1.25"/><circle cx="303.5" cy="239.7" r="1.25"/><circle cx="303.0" cy="243.9" r="1.25"/><circle cx="332.3" cy="258.2" r="1.25"/><circle cx="331.8" cy="258.1" r="1.25"/><circle cx="359.3" cy="256.6" r="1.25"/><circle cx="359.1" cy="256.5" r="1.25"/><circle cx="235.6" cy="191.0" r="1.25"/><circle cx="247.1" cy="276.9" r="1.25"/><circle cx="252.4" cy="277.9" r="1.25"/><circle cx="216.0" cy="277.3" r="1.25"/><circle cx="215.4" cy="277.4" r="1.25"/><circle cx="252.2" cy="287.1" r="1.25"/><circle cx="244.2" cy="201.9" r="1.25"/><circle cx="240.7" cy="273.0" r="1.25"/><circle cx="206.0" cy="261.4" r="1.25"/><circle cx="256.8" cy="285.3" r="1.25"/><circle cx="224.7" cy="181.2" r="1.25"/><circle cx="237.9" cy="201.5" r="1.25"/><circle cx="239.0" cy="197.3" r="1.25"/><circle cx="184.7" cy="154.3" r="1.25"/></g><g fill="#539bcf"><circle cx="185.1" cy="140.3" r="1.25"/><circle cx="257.6" cy="203.1" r="1.25"/><circle cx="278.7" cy="205.0" r="1.25"/><circle cx="281.3" cy="207.6" r="1.25"/><circle cx="262.1" cy="207.6" r="1.25"/><circle cx="260.1" cy="210.1" r="1.25"/><circle cx="267.2" cy="224.9" r="1.25"/><circle cx="274.9" cy="229.4" r="1.25"/><circle cx="276.1" cy="229.7" r="1.25"/><circle cx="278.4" cy="230.9" r="1.25"/><circle cx="263.4" cy="243.0" r="1.25"/><circle cx="265.8" cy="243.0" r="1.25"/><circle cx="271.5" cy="241.8" r="1.25"/><circle cx="281.9" cy="242.4" r="1.25"/><circle cx="261.1" cy="249.3" r="1.25"/><circle cx="266.9" cy="248.8" r="1.25"/><circle cx="273.3" cy="251.6" r="1.25"/><circle cx="268.1" cy="257.4" r="1.25"/><circle cx="269.8" cy="255.7" r="1.25"/><circle cx="276.1" cy="255.7" r="1.25"/><circle cx="266.9" cy="258.0" r="1.25"/><circle cx="262.9" cy="265.5" r="1.25"/><circle cx="243.8" cy="294.3" r="1.25"/><circle cx="271.2" cy="273.0" r="1.25"/><circle cx="241.2" cy="302.5" r="1.25"/><circle cx="241.2" cy="306.2" r="1.25"/><circle cx="242.5" cy="305.0" r="1.25"/><circle cx="291.9" cy="211.5" r="1.25"/><circle cx="318.5" cy="221.9" r="1.25"/><circle cx="297.7" cy="259.5" r="1.25"/><circle cx="290.1" cy="262.2" r="1.25"/><circle cx="294.2" cy="263.2" r="1.25"/><circle cx="299.8" cy="260.5" r="1.25"/><circle cx="244.9" cy="284.2" r="1.25"/><circle cx="243.1" cy="271.0" r="1.25"/><circle cx="248.8" cy="268.9" r="1.25"/><circle cx="256.9" cy="256.3" r="1.25"/><circle cx="200.3" cy="224.5" r="1.25"/><circle cx="232.7" cy="271.5" r="1.25"/><circle cx="249.0" cy="226.0" r="1.25"/><circle cx="256.7" cy="268.1" r="1.25"/><circle cx="246.2" cy="205.9" r="1.25"/><circle cx="231.8" cy="188.3" r="1.25"/><circle cx="229.5" cy="192.2" r="1.25"/><circle cx="253.8" cy="256.9" r="1.25"/><circle cx="249.4" cy="263.1" r="1.25"/><circle cx="232.1" cy="194.6" r="1.25"/><circle cx="254.5" cy="253.2" r="1.25"/><circle cx="257.7" cy="271.5" r="1.25"/><circle cx="207.3" cy="258.6" r="1.25"/><circle cx="257.4" cy="271.0" r="1.25"/><circle cx="207.6" cy="166.9" r="1.25"/><circle cx="240.4" cy="212.4" r="1.25"/><circle cx="248.8" cy="276.9" r="1.25"/><circle cx="241.8" cy="289.6" r="1.25"/><circle cx="250.4" cy="203.7" r="1.25"/><circle cx="217.6" cy="284.2" r="1.25"/></g><g fill="#52a2dc"><circle cx="187.1" cy="173.4" r="1.25"/><circle cx="254.4" cy="203.7" r="1.25"/><circle cx="281.3" cy="203.1" r="1.25"/><circle cx="258.2" cy="206.3" r="1.25"/><circle cx="258.2" cy="227.4" r="1.25"/><circle cx="260.0" cy="231.5" r="1.25"/><circle cx="262.9" cy="232.6" r="1.25"/><circle cx="261.1" cy="234.9" r="1.25"/><circle cx="263.4" cy="235.5" r="1.25"/><circle cx="266.9" cy="235.5" r="1.25"/><circle cx="260.0" cy="239.5" r="1.25"/><circle cx="269.8" cy="242.4" r="1.25"/><circle cx="273.8" cy="243.6" r="1.25"/><circle cx="277.3" cy="243.0" r="1.25"/><circle cx="276.1" cy="247.0" r="1.25"/><circle cx="264.6" cy="248.8" r="1.25"/><circle cx="269.2" cy="248.5" r="1.25"/><circle cx="273.3" cy="249.9" r="1.25"/><circle cx="261.1" cy="252.2" r="1.25"/><circle cx="244.4" cy="290.8" r="1.25"/><circle cx="297.3" cy="260.1" r="1.25"/><circle cx="244.7" cy="231.5" r="1.25"/><circle cx="212.7" cy="217.1" r="1.25"/><circle cx="209.0" cy="222.3" r="1.25"/><circle cx="225.9" cy="216.0" r="1.25"/><circle cx="209.8" cy="235.8" r="1.25"/><circle cx="243.5" cy="260.6" r="1.25"/><circle cx="222.4" cy="248.8" r="1.25"/><circle cx="233.2" cy="243.7" r="1.25"/><circle cx="221.7" cy="258.4" r="1.25"/><circle cx="208.8" cy="203.3" r="1.25"/><circle cx="209.2" cy="198.8" r="1.25"/><circle cx="204.8" cy="186.6" r="1.25"/><circle cx="202.7" cy="236.6" r="1.25"/><circle cx="208.9" cy="248.9" r="1.25"/><circle cx="210.2" cy="243.1" r="1.25"/><circle cx="196.2" cy="170.6" r="1.25"/><circle cx="204.6" cy="181.5" r="1.25"/><circle cx="221.7" cy="273.4" r="1.25"/><circle cx="211.2" cy="268.6" r="1.25"/><circle cx="233.2" cy="206.7" r="1.25"/><circle cx="234.7" cy="228.5" r="1.25"/><circle cx="223.9" cy="243.3" r="1.25"/><circle cx="233.2" cy="236.1" r="1.25"/><circle cx="231.0" cy="204.7" r="1.25"/><circle cx="209.9" cy="187.9" r="1.25"/><circle cx="212.8" cy="211.0" r="1.25"/><circle cx="229.4" cy="275.0" r="1.25"/><circle cx="214.3" cy="239.4" r="1.25"/><circle cx="205.7" cy="241.3" r="1.25"/><circle cx="235.7" cy="221.6" r="1.25"/><circle cx="198.2" cy="177.8" r="1.25"/><circle cx="217.2" cy="264.9" r="1.25"/><circle cx="228.0" cy="228.5" r="1.25"/><circle cx="203.4" cy="169.0" r="1.25"/><circle cx="208.4" cy="221.4" r="1.25"/><circle cx="203.7" cy="214.6" r="1.25"/><circle cx="213.9" cy="244.9" r="1.25"/><circle cx="209.9" cy="235.9" r="1.25"/><circle cx="201.4" cy="186.2" r="1.25"/><circle cx="200.6" cy="195.4" r="1.25"/><circle cx="218.1" cy="209.5" r="1.25"/><circle cx="211.2" cy="215.7" r="1.25"/><circle cx="201.3" cy="166.6" r="1.25"/><circle cx="238.7" cy="238.0" r="1.25"/><circle cx="200.6" cy="202.0" r="1.25"/><circle cx="207.4" cy="187.3" r="1.25"/><circle cx="194.0" cy="171.7" r="1.25"/><circle cx="224.9" cy="198.5" r="1.25"/><circle cx="234.0" cy="264.0" r="1.25"/><circle cx="207.3" cy="219.0" r="1.25"/><circle cx="193.0" cy="156.4" r="1.25"/><circle cx="211.6" cy="187.0" r="1.25"/><circle cx="209.4" cy="230.3" r="1.25"/><circle cx="236.8" cy="232.5" r="1.25"/><circle cx="205.3" cy="177.2" r="1.25"/><circle cx="208.9" cy="206.0" r="1.25"/><circle cx="206.8" cy="175.4" r="1.25"/><circle cx="191.0" cy="168.4" r="1.25"/><circle cx="219.1" cy="210.2" r="1.25"/><circle cx="236.8" cy="224.3" r="1.25"/><circle cx="199.8" cy="173.1" r="1.25"/><circle cx="238.3" cy="209.9" r="1.25"/><circle cx="203.9" cy="215.4" r="1.25"/><circle cx="212.3" cy="225.8" r="1.25"/><circle cx="218.3" cy="192.0" r="1.25"/><circle cx="210.7" cy="243.4" r="1.25"/><circle cx="237.1" cy="260.4" r="1.25"/><circle cx="193.8" cy="189.7" r="1.25"/><circle cx="217.4" cy="229.5" r="1.25"/><circle cx="200.0" cy="172.5" r="1.25"/><circle cx="203.1" cy="164.3" r="1.25"/><circle cx="192.9" cy="175.5" r="1.25"/><circle cx="190.8" cy="185.7" r="1.25"/><circle cx="219.2" cy="196.3" r="1.25"/><circle cx="216.5" cy="223.3" r="1.25"/><circle cx="227.5" cy="224.6" r="1.25"/><circle cx="234.2" cy="239.2" r="1.25"/><circle cx="231.3" cy="234.0" r="1.25"/><circle cx="198.3" cy="169.7" r="1.25"/><circle cx="198.6" cy="170.8" r="1.25"/><circle cx="256.2" cy="231.8" r="1.25"/><circle cx="204.8" cy="242.1" r="1.25"/><circle cx="213.1" cy="191.7" r="1.25"/><circle cx="201.0" cy="173.4" r="1.25"/><circle cx="236.5" cy="228.8" r="1.25"/><circle cx="211.9" cy="216.4" r="1.25"/><circle cx="213.5" cy="229.2" r="1.25"/><circle cx="200.4" cy="209.1" r="1.25"/><circle cx="216.0" cy="207.8" r="1.25"/><circle cx="206.6" cy="203.4" r="1.25"/><circle cx="207.1" cy="209.2" r="1.25"/><circle cx="233.5" cy="282.9" r="1.25"/><circle cx="210.7" cy="180.9" r="1.25"/><circle cx="201.2" cy="214.3" r="1.25"/><circle cx="202.6" cy="229.0" r="1.25"/><circle cx="194.4" cy="164.7" r="1.25"/><circle cx="217.7" cy="212.9" r="1.25"/><circle cx="227.5" cy="218.2" r="1.25"/><circle cx="228.1" cy="202.3" r="1.25"/><circle cx="201.7" cy="184.9" r="1.25"/><circle cx="234.5" cy="249.1" r="1.25"/><circle cx="240.6" cy="242.5" r="1.25"/><circle cx="216.5" cy="241.7" r="1.25"/><circle cx="226.1" cy="210.6" r="1.25"/><circle cx="189.0" cy="168.0" r="1.25"/><circle cx="241.7" cy="229.6" r="1.25"/><circle cx="204.4" cy="252.8" r="1.25"/><circle cx="227.8" cy="224.6" r="1.25"/><circle cx="222.0" cy="246.5" r="1.25"/><circle cx="227.4" cy="208.3" r="1.25"/><circle cx="195.9" cy="184.5" r="1.25"/><circle cx="212.2" cy="240.2" r="1.25"/><circle cx="242.6" cy="261.1" r="1.25"/><circle cx="196.4" cy="162.1" r="1.25"/><circle cx="190.7" cy="160.5" r="1.25"/><circle cx="221.2" cy="257.4" r="1.25"/><circle cx="224.6" cy="274.1" r="1.25"/><circle cx="199.7" cy="218.5" r="1.25"/><circle cx="213.6" cy="200.1" r="1.25"/><circle cx="196.8" cy="202.4" r="1.25"/><circle cx="203.4" cy="188.5" r="1.25"/><circle cx="222.4" cy="196.4" r="1.25"/><circle cx="239.1" cy="284.4" r="1.25"/><circle cx="197.0" cy="200.1" r="1.25"/><circle cx="201.6" cy="160.7" r="1.25"/><circle cx="220.0" cy="180.0" r="1.25"/><circle cx="221.4" cy="273.8" r="1.25"/><circle cx="220.6" cy="289.5" r="1.25"/><circle cx="192.0" cy="176.8" r="1.25"/><circle cx="233.2" cy="278.0" r="1.25"/><circle cx="241.4" cy="257.3" r="1.25"/><circle cx="220.3" cy="230.2" r="1.25"/><circle cx="234.6" cy="263.6" r="1.25"/><circle cx="212.1" cy="213.3" r="1.25"/><circle cx="234.2" cy="225.5" r="1.25"/><circle cx="227.4" cy="259.4" r="1.25"/><circle cx="201.6" cy="178.0" r="1.25"/><circle cx="185.9" cy="154.2" r="1.25"/><circle cx="225.1" cy="240.8" r="1.25"/><circle cx="225.0" cy="234.3" r="1.25"/><circle cx="214.0" cy="245.4" r="1.25"/><circle cx="215.5" cy="214.1" r="1.25"/><circle cx="197.7" cy="195.9" r="1.25"/><circle cx="225.0" cy="210.1" r="1.25"/><circle cx="192.3" cy="185.5" r="1.25"/><circle cx="203.6" cy="187.1" r="1.25"/><circle cx="196.9" cy="186.7" r="1.25"/><circle cx="212.9" cy="226.3" r="1.25"/><circle cx="200.3" cy="203.9" r="1.25"/><circle cx="232.9" cy="215.2" r="1.25"/><circle cx="201.4" cy="168.2" r="1.25"/><circle cx="246.1" cy="267.5" r="1.25"/><circle cx="243.7" cy="254.1" r="1.25"/><circle cx="243.2" cy="247.8" r="1.25"/><circle cx="223.1" cy="200.5" r="1.25"/><circle cx="208.3" cy="197.8" r="1.25"/><circle cx="237.1" cy="219.3" r="1.25"/><circle cx="199.5" cy="174.2" r="1.25"/><circle cx="204.9" cy="247.0" r="1.25"/><circle cx="256.1" cy="241.6" r="1.25"/><circle cx="222.0" cy="276.5" r="1.25"/><circle cx="226.6" cy="255.2" r="1.25"/><circle cx="206.7" cy="177.6" r="1.25"/><circle cx="214.7" cy="213.0" r="1.25"/><circle cx="198.8" cy="170.0" r="1.25"/><circle cx="203.2" cy="246.1" r="1.25"/><circle cx="214.8" cy="193.2" r="1.25"/><circle cx="218.9" cy="200.8" r="1.25"/><circle cx="195.0" cy="198.7" r="1.25"/><circle cx="214.6" cy="230.1" r="1.25"/><circle cx="223.5" cy="202.5" r="1.25"/><circle cx="232.1" cy="210.0" r="1.25"/><circle cx="234.6" cy="281.2" r="1.25"/><circle cx="186.0" cy="164.3" r="1.25"/><circle cx="202.4" cy="162.9" r="1.25"/><circle cx="205.9" cy="236.8" r="1.25"/><circle cx="195.6" cy="171.4" r="1.25"/><circle cx="201.6" cy="192.4" r="1.25"/><circle cx="212.6" cy="267.5" r="1.25"/><circle cx="194.4" cy="169.7" r="1.25"/><circle cx="198.3" cy="206.4" r="1.25"/><circle cx="238.1" cy="248.0" r="1.25"/><circle cx="205.9" cy="205.2" r="1.25"/><circle cx="224.3" cy="211.4" r="1.25"/><circle cx="241.8" cy="236.7" r="1.25"/><circle cx="238.3" cy="264.0" r="1.25"/><circle cx="190.1" cy="165.6" r="1.25"/><circle cx="227.7" cy="252.3" r="1.25"/><circle cx="247.5" cy="266.4" r="1.25"/><circle cx="232.2" cy="207.9" r="1.25"/><circle cx="246.6" cy="253.2" r="1.25"/><circle cx="236.1" cy="235.0" r="1.25"/><circle cx="231.7" cy="251.3" r="1.25"/><circle cx="243.5" cy="244.6" r="1.25"/><circle cx="221.6" cy="243.1" r="1.25"/><circle cx="202.7" cy="202.6" r="1.25"/><circle cx="227.4" cy="271.3" r="1.25"/><circle cx="241.4" cy="229.4" r="1.25"/><circle cx="206.1" cy="205.5" r="1.25"/><circle cx="228.2" cy="260.5" r="1.25"/><circle cx="236.8" cy="222.6" r="1.25"/><circle cx="225.1" cy="215.8" r="1.25"/><circle cx="214.0" cy="230.2" r="1.25"/><circle cx="208.4" cy="178.5" r="1.25"/><circle cx="218.9" cy="201.9" r="1.25"/><circle cx="230.2" cy="229.3" r="1.25"/><circle cx="198.1" cy="185.7" r="1.25"/><circle cx="240.3" cy="289.0" r="1.25"/><circle cx="218.7" cy="203.7" r="1.25"/><circle cx="200.5" cy="185.7" r="1.25"/><circle cx="197.5" cy="206.2" r="1.25"/><circle cx="223.2" cy="284.5" r="1.25"/><circle cx="218.7" cy="212.0" r="1.25"/><circle cx="207.8" cy="229.9" r="1.25"/><circle cx="205.8" cy="244.8" r="1.25"/><circle cx="223.2" cy="209.0" r="1.25"/><circle cx="214.3" cy="186.0" r="1.25"/><circle cx="206.1" cy="210.3" r="1.25"/><circle cx="246.9" cy="263.1" r="1.25"/><circle cx="229.4" cy="249.7" r="1.25"/><circle cx="220.4" cy="199.4" r="1.25"/><circle cx="232.2" cy="249.9" r="1.25"/><circle cx="217.9" cy="256.7" r="1.25"/><circle cx="198.3" cy="209.1" r="1.25"/><circle cx="236.9" cy="258.8" r="1.25"/><circle cx="207.5" cy="201.3" r="1.25"/><circle cx="200.9" cy="190.5" r="1.25"/><circle cx="230.9" cy="241.9" r="1.25"/><circle cx="187.4" cy="169.7" r="1.25"/><circle cx="229.0" cy="242.4" r="1.25"/><circle cx="216.7" cy="200.6" r="1.25"/><circle cx="229.1" cy="244.6" r="1.25"/><circle cx="200.8" cy="190.6" r="1.25"/><circle cx="210.5" cy="245.2" r="1.25"/><circle cx="207.3" cy="195.3" r="1.25"/><circle cx="225.5" cy="207.4" r="1.25"/><circle cx="236.4" cy="234.0" r="1.25"/><circle cx="189.2" cy="174.4" r="1.25"/><circle cx="202.0" cy="210.6" r="1.25"/><circle cx="199.4" cy="168.2" r="1.25"/><circle cx="223.0" cy="203.2" r="1.25"/><circle cx="198.4" cy="184.7" r="1.25"/><circle cx="209.2" cy="247.1" r="1.25"/><circle cx="228.1" cy="245.3" r="1.25"/><circle cx="227.8" cy="202.1" r="1.25"/><circle cx="203.2" cy="211.8" r="1.25"/><circle cx="232.5" cy="208.9" r="1.25"/><circle cx="241.0" cy="282.7" r="1.25"/><circle cx="206.6" cy="239.9" r="1.25"/><circle cx="235.3" cy="245.1" r="1.25"/><circle cx="221.6" cy="215.9" r="1.25"/><circle cx="202.3" cy="224.1" r="1.25"/><circle cx="237.0" cy="248.5" r="1.25"/><circle cx="215.1" cy="195.3" r="1.25"/><circle cx="206.4" cy="184.7" r="1.25"/><circle cx="218.4" cy="210.8" r="1.25"/><circle cx="223.0" cy="188.6" r="1.25"/><circle cx="235.2" cy="247.3" r="1.25"/><circle cx="195.6" cy="169.8" r="1.25"/><circle cx="216.4" cy="216.0" r="1.25"/><circle cx="204.2" cy="181.6" r="1.25"/><circle cx="205.7" cy="203.8" r="1.25"/><circle cx="214.0" cy="249.7" r="1.25"/><circle cx="210.2" cy="203.0" r="1.25"/><circle cx="217.5" cy="256.8" r="1.25"/><circle cx="208.8" cy="242.9" r="1.25"/><circle cx="241.8" cy="225.9" r="1.25"/><circle cx="225.2" cy="286.4" r="1.25"/><circle cx="232.9" cy="208.2" r="1.25"/><circle cx="209.0" cy="241.1" r="1.25"/><circle cx="237.1" cy="217.6" r="1.25"/><circle cx="213.5" cy="247.5" r="1.25"/><circle cx="233.5" cy="205.8" r="1.25"/><circle cx="197.8" cy="169.0" r="1.25"/><circle cx="213.7" cy="218.8" r="1.25"/><circle cx="212.8" cy="234.5" r="1.25"/><circle cx="216.8" cy="250.5" r="1.25"/><circle cx="224.7" cy="249.0" r="1.25"/><circle cx="207.7" cy="240.8" r="1.25"/><circle cx="223.2" cy="209.4" r="1.25"/><circle cx="248.1" cy="255.2" r="1.25"/><circle cx="204.5" cy="173.2" r="1.25"/><circle cx="225.8" cy="211.4" r="1.25"/><circle cx="200.5" cy="198.5" r="1.25"/><circle cx="206.3" cy="244.9" r="1.25"/><circle cx="211.9" cy="204.9" r="1.25"/><circle cx="195.0" cy="177.5" r="1.25"/><circle cx="188.6" cy="176.1" r="1.25"/><circle cx="232.0" cy="264.9" r="1.25"/><circle cx="238.2" cy="224.5" r="1.25"/><circle cx="196.4" cy="179.8" r="1.25"/><circle cx="210.1" cy="253.3" r="1.25"/><circle cx="232.4" cy="217.2" r="1.25"/><circle cx="246.3" cy="253.3" r="1.25"/><circle cx="206.9" cy="200.6" r="1.25"/><circle cx="205.7" cy="179.2" r="1.25"/><circle cx="213.8" cy="198.9" r="1.25"/><circle cx="227.0" cy="252.0" r="1.25"/><circle cx="206.0" cy="190.5" r="1.25"/><circle cx="235.6" cy="253.3" r="1.25"/><circle cx="202.7" cy="176.4" r="1.25"/><circle cx="205.5" cy="225.6" r="1.25"/><circle cx="190.3" cy="166.8" r="1.25"/><circle cx="211.6" cy="187.0" r="1.25"/><circle cx="214.2" cy="214.1" r="1.25"/><circle cx="245.4" cy="242.0" r="1.25"/><circle cx="217.0" cy="182.6" r="1.25"/><circle cx="247.0" cy="247.5" r="1.25"/><circle cx="217.8" cy="220.5" r="1.25"/><circle cx="209.2" cy="195.2" r="1.25"/><circle cx="200.6" cy="180.7" r="1.25"/><circle cx="217.2" cy="248.1" r="1.25"/><circle cx="226.4" cy="242.8" r="1.25"/><circle cx="215.8" cy="268.8" r="1.25"/><circle cx="204.2" cy="179.0" r="1.25"/><circle cx="206.4" cy="208.6" r="1.25"/><circle cx="246.8" cy="253.2" r="1.25"/><circle cx="217.1" cy="184.3" r="1.25"/><circle cx="197.2" cy="198.2" r="1.25"/><circle cx="252.6" cy="227.9" r="1.25"/><circle cx="215.8" cy="203.4" r="1.25"/><circle cx="226.8" cy="217.3" r="1.25"/><circle cx="243.1" cy="252.8" r="1.25"/><circle cx="225.9" cy="255.6" r="1.25"/><circle cx="220.0" cy="201.2" r="1.25"/><circle cx="239.0" cy="218.3" r="1.25"/><circle cx="243.2" cy="252.9" r="1.25"/><circle cx="212.7" cy="184.9" r="1.25"/><circle cx="209.3" cy="213.2" r="1.25"/><circle cx="204.1" cy="203.6" r="1.25"/><circle cx="223.0" cy="239.4" r="1.25"/><circle cx="203.4" cy="223.3" r="1.25"/><circle cx="208.5" cy="218.1" r="1.25"/><circle cx="219.2" cy="264.2" r="1.25"/><circle cx="214.6" cy="203.6" r="1.25"/><circle cx="229.7" cy="218.4" r="1.25"/><circle cx="204.5" cy="248.2" r="1.25"/><circle cx="198.1" cy="169.9" r="1.25"/><circle cx="227.6" cy="205.8" r="1.25"/><circle cx="207.7" cy="225.8" r="1.25"/><circle cx="228.9" cy="251.8" r="1.25"/><circle cx="241.4" cy="253.7" r="1.25"/><circle cx="239.3" cy="222.2" r="1.25"/><circle cx="225.8" cy="212.4" r="1.25"/><circle cx="215.9" cy="207.5" r="1.25"/><circle cx="201.3" cy="174.6" r="1.25"/><circle cx="203.7" cy="232.7" r="1.25"/><circle cx="203.8" cy="206.5" r="1.25"/><circle cx="214.0" cy="199.4" r="1.25"/><circle cx="202.6" cy="236.0" r="1.25"/><circle cx="205.5" cy="203.2" r="1.25"/><circle cx="198.8" cy="190.7" r="1.25"/><circle cx="207.6" cy="235.4" r="1.25"/><circle cx="227.1" cy="207.6" r="1.25"/><circle cx="194.0" cy="190.6" r="1.25"/><circle cx="242.6" cy="219.3" r="1.25"/><circle cx="204.9" cy="216.6" r="1.25"/><circle cx="215.7" cy="198.6" r="1.25"/><circle cx="198.0" cy="176.7" r="1.25"/><circle cx="240.8" cy="229.3" r="1.25"/><circle cx="200.5" cy="207.2" r="1.25"/><circle cx="233.2" cy="257.3" r="1.25"/><circle cx="216.6" cy="210.1" r="1.25"/><circle cx="218.5" cy="226.7" r="1.25"/><circle cx="208.0" cy="236.7" r="1.25"/><circle cx="248.4" cy="228.3" r="1.25"/><circle cx="199.8" cy="214.2" r="1.25"/><circle cx="236.8" cy="264.0" r="1.25"/><circle cx="224.1" cy="221.5" r="1.25"/><circle cx="237.4" cy="244.0" r="1.25"/><circle cx="243.7" cy="284.9" r="1.25"/><circle cx="238.4" cy="282.0" r="1.25"/><circle cx="207.4" cy="238.4" r="1.25"/><circle cx="218.1" cy="265.8" r="1.25"/><circle cx="195.5" cy="167.8" r="1.25"/><circle cx="219.1" cy="251.0" r="1.25"/><circle cx="213.0" cy="211.7" r="1.25"/><circle cx="194.9" cy="178.2" r="1.25"/><circle cx="205.0" cy="229.8" r="1.25"/><circle cx="235.6" cy="208.9" r="1.25"/><circle cx="194.3" cy="184.0" r="1.25"/><circle cx="222.4" cy="285.3" r="1.25"/><circle cx="224.5" cy="235.4" r="1.25"/><circle cx="196.3" cy="178.5" r="1.25"/><circle cx="200.7" cy="190.5" r="1.25"/><circle cx="195.2" cy="193.8" r="1.25"/><circle cx="218.6" cy="246.9" r="1.25"/><circle cx="208.3" cy="267.0" r="1.25"/><circle cx="247.4" cy="243.1" r="1.25"/><circle cx="231.2" cy="229.8" r="1.25"/><circle cx="232.8" cy="234.1" r="1.25"/><circle cx="235.7" cy="206.3" r="1.25"/><circle cx="220.3" cy="272.3" r="1.25"/><circle cx="218.1" cy="221.1" r="1.25"/><circle cx="217.1" cy="191.1" r="1.25"/><circle cx="242.2" cy="240.5" r="1.25"/><circle cx="228.9" cy="205.7" r="1.25"/><circle cx="198.5" cy="163.5" r="1.25"/><circle cx="242.0" cy="221.8" r="1.25"/><circle cx="215.0" cy="224.9" r="1.25"/><circle cx="201.8" cy="204.5" r="1.25"/><circle cx="195.8" cy="199.5" r="1.25"/><circle cx="223.5" cy="207.4" r="1.25"/><circle cx="235.1" cy="233.6" r="1.25"/><circle cx="235.8" cy="238.9" r="1.25"/><circle cx="217.8" cy="234.5" r="1.25"/><circle cx="227.5" cy="230.1" r="1.25"/><circle cx="221.9" cy="202.1" r="1.25"/><circle cx="224.8" cy="225.3" r="1.25"/><circle cx="218.4" cy="257.9" r="1.25"/><circle cx="216.7" cy="221.6" r="1.25"/><circle cx="215.0" cy="193.5" r="1.25"/><circle cx="197.2" cy="179.1" r="1.25"/><circle cx="206.4" cy="214.2" r="1.25"/><circle cx="204.0" cy="246.5" r="1.25"/><circle cx="231.3" cy="225.5" r="1.25"/><circle cx="243.9" cy="255.8" r="1.25"/><circle cx="235.2" cy="238.6" r="1.25"/><circle cx="208.2" cy="199.8" r="1.25"/><circle cx="215.3" cy="210.2" r="1.25"/><circle cx="213.1" cy="244.1" r="1.25"/><circle cx="216.6" cy="252.1" r="1.25"/><circle cx="222.3" cy="257.3" r="1.25"/><circle cx="220.2" cy="192.5" r="1.25"/><circle cx="197.4" cy="179.7" r="1.25"/><circle cx="227.2" cy="231.1" r="1.25"/><circle cx="193.4" cy="188.2" r="1.25"/><circle cx="235.5" cy="232.1" r="1.25"/><circle cx="214.0" cy="226.6" r="1.25"/><circle cx="225.6" cy="224.9" r="1.25"/><circle cx="214.8" cy="189.9" r="1.25"/><circle cx="257.2" cy="237.4" r="1.25"/><circle cx="210.8" cy="265.3" r="1.25"/><circle cx="242.5" cy="243.8" r="1.25"/><circle cx="237.3" cy="244.8" r="1.25"/><circle cx="203.8" cy="214.3" r="1.25"/><circle cx="210.6" cy="204.3" r="1.25"/><circle cx="216.9" cy="201.6" r="1.25"/><circle cx="227.3" cy="221.4" r="1.25"/><circle cx="206.6" cy="193.8" r="1.25"/><circle cx="217.9" cy="200.9" r="1.25"/><circle cx="220.7" cy="236.2" r="1.25"/><circle cx="196.3" cy="189.6" r="1.25"/><circle cx="195.6" cy="168.8" r="1.25"/><circle cx="194.8" cy="176.5" r="1.25"/><circle cx="204.4" cy="175.2" r="1.25"/><circle cx="232.6" cy="275.4" r="1.25"/><circle cx="205.4" cy="209.4" r="1.25"/><circle cx="212.1" cy="203.8" r="1.25"/><circle cx="229.2" cy="233.5" r="1.25"/><circle cx="212.2" cy="217.1" r="1.25"/><circle cx="205.6" cy="207.0" r="1.25"/><circle cx="224.5" cy="201.1" r="1.25"/><circle cx="200.4" cy="213.1" r="1.25"/><circle cx="212.1" cy="212.6" r="1.25"/><circle cx="216.1" cy="266.9" r="1.25"/><circle cx="246.9" cy="253.0" r="1.25"/><circle cx="208.6" cy="220.0" r="1.25"/><circle cx="212.0" cy="197.7" r="1.25"/><circle cx="230.4" cy="223.3" r="1.25"/><circle cx="224.5" cy="211.2" r="1.25"/><circle cx="232.7" cy="199.5" r="1.25"/><circle cx="214.5" cy="207.8" r="1.25"/><circle cx="209.9" cy="181.7" r="1.25"/><circle cx="240.2" cy="266.0" r="1.25"/><circle cx="230.2" cy="201.5" r="1.25"/><circle cx="208.9" cy="171.9" r="1.25"/><circle cx="230.7" cy="235.8" r="1.25"/><circle cx="213.8" cy="204.2" r="1.25"/><circle cx="227.0" cy="212.9" r="1.25"/><circle cx="202.8" cy="171.9" r="1.25"/><circle cx="222.9" cy="192.6" r="1.25"/><circle cx="256.9" cy="227.8" r="1.25"/><circle cx="232.1" cy="230.3" r="1.25"/><circle cx="232.3" cy="251.5" r="1.25"/><circle cx="208.9" cy="222.9" r="1.25"/><circle cx="203.9" cy="235.8" r="1.25"/><circle cx="236.1" cy="229.7" r="1.25"/><circle cx="206.5" cy="226.8" r="1.25"/><circle cx="210.2" cy="210.1" r="1.25"/><circle cx="216.5" cy="218.8" r="1.25"/><circle cx="229.0" cy="224.5" r="1.25"/><circle cx="220.9" cy="217.1" r="1.25"/><circle cx="226.5" cy="275.7" r="1.25"/><circle cx="221.9" cy="195.5" r="1.25"/><circle cx="215.8" cy="179.3" r="1.25"/><circle cx="231.6" cy="247.3" r="1.25"/><circle cx="241.1" cy="241.8" r="1.25"/><circle cx="215.4" cy="257.6" r="1.25"/><circle cx="201.8" cy="186.7" r="1.25"/><circle cx="212.6" cy="220.6" r="1.25"/><circle cx="207.3" cy="195.0" r="1.25"/><circle cx="216.2" cy="204.2" r="1.25"/><circle cx="217.1" cy="235.5" r="1.25"/><circle cx="195.9" cy="201.2" r="1.25"/><circle cx="191.4" cy="155.2" r="1.25"/><circle cx="202.7" cy="215.9" r="1.25"/><circle cx="194.7" cy="181.1" r="1.25"/><circle cx="220.3" cy="216.2" r="1.25"/><circle cx="236.8" cy="268.2" r="1.25"/><circle cx="206.0" cy="175.1" r="1.25"/><circle cx="257.6" cy="237.5" r="1.25"/><circle cx="220.3" cy="245.4" r="1.25"/><circle cx="212.2" cy="192.3" r="1.25"/><circle cx="198.6" cy="190.7" r="1.25"/><circle cx="210.4" cy="232.9" r="1.25"/><circle cx="233.1" cy="230.3" r="1.25"/><circle cx="203.3" cy="209.6" r="1.25"/><circle cx="234.8" cy="218.0" r="1.25"/><circle cx="237.4" cy="231.4" r="1.25"/><circle cx="227.2" cy="213.6" r="1.25"/><circle cx="189.6" cy="167.7" r="1.25"/><circle cx="220.7" cy="199.8" r="1.25"/><circle cx="198.7" cy="215.7" r="1.25"/><circle cx="248.5" cy="247.9" r="1.25"/><circle cx="196.1" cy="202.0" r="1.25"/><circle cx="224.0" cy="249.9" r="1.25"/><circle cx="202.4" cy="180.4" r="1.25"/><circle cx="192.7" cy="182.6" r="1.25"/><circle cx="229.7" cy="223.7" r="1.25"/><circle cx="214.2" cy="184.6" r="1.25"/><circle cx="238.9" cy="235.9" r="1.25"/><circle cx="193.9" cy="175.3" r="1.25"/><circle cx="230.8" cy="226.3" r="1.25"/><circle cx="226.4" cy="220.6" r="1.25"/><circle cx="210.2" cy="193.4" r="1.25"/><circle cx="230.8" cy="244.0" r="1.25"/><circle cx="202.6" cy="232.7" r="1.25"/><circle cx="202.2" cy="230.3" r="1.25"/><circle cx="200.6" cy="191.6" r="1.25"/><circle cx="210.5" cy="223.6" r="1.25"/><circle cx="213.6" cy="221.1" r="1.25"/><circle cx="239.6" cy="257.8" r="1.25"/><circle cx="227.2" cy="219.4" r="1.25"/><circle cx="257.0" cy="226.5" r="1.25"/><circle cx="225.4" cy="226.6" r="1.25"/><circle cx="201.0" cy="214.5" r="1.25"/><circle cx="203.1" cy="197.1" r="1.25"/><circle cx="230.5" cy="230.0" r="1.25"/><circle cx="221.5" cy="205.2" r="1.25"/><circle cx="204.5" cy="206.3" r="1.25"/><circle cx="213.6" cy="237.2" r="1.25"/><circle cx="203.3" cy="236.0" r="1.25"/><circle cx="201.3" cy="166.4" r="1.25"/><circle cx="205.2" cy="193.6" r="1.25"/><circle cx="210.0" cy="219.3" r="1.25"/><circle cx="219.6" cy="251.9" r="1.25"/><circle cx="197.5" cy="197.5" r="1.25"/><circle cx="233.6" cy="245.1" r="1.25"/><circle cx="189.6" cy="152.9" r="1.25"/><circle cx="230.2" cy="203.9" r="1.25"/><circle cx="240.4" cy="239.6" r="1.25"/><circle cx="202.8" cy="231.9" r="1.25"/><circle cx="220.3" cy="204.6" r="1.25"/><circle cx="190.7" cy="155.7" r="1.25"/><circle cx="219.3" cy="217.5" r="1.25"/><circle cx="206.7" cy="205.5" r="1.25"/><circle cx="211.4" cy="200.0" r="1.25"/><circle cx="203.2" cy="198.8" r="1.25"/><circle cx="196.1" cy="196.3" r="1.25"/><circle cx="205.6" cy="251.4" r="1.25"/><circle cx="218.3" cy="222.9" r="1.25"/><circle cx="228.9" cy="219.8" r="1.25"/><circle cx="214.4" cy="260.6" r="1.25"/><circle cx="229.5" cy="240.8" r="1.25"/><circle cx="235.6" cy="218.2" r="1.25"/><circle cx="197.8" cy="212.4" r="1.25"/><circle cx="202.3" cy="229.9" r="1.25"/><circle cx="224.5" cy="198.5" r="1.25"/><circle cx="213.3" cy="222.6" r="1.25"/><circle cx="230.4" cy="226.2" r="1.25"/><circle cx="225.5" cy="214.3" r="1.25"/><circle cx="235.9" cy="208.3" r="1.25"/><circle cx="200.3" cy="166.0" r="1.25"/><circle cx="208.9" cy="251.1" r="1.25"/><circle cx="229.9" cy="234.7" r="1.25"/><circle cx="213.6" cy="229.5" r="1.25"/><circle cx="196.6" cy="202.2" r="1.25"/><circle cx="220.8" cy="243.9" r="1.25"/><circle cx="234.5" cy="228.9" r="1.25"/><circle cx="216.9" cy="198.1" r="1.25"/><circle cx="234.8" cy="238.3" r="1.25"/><circle cx="237.7" cy="211.8" r="1.25"/><circle cx="225.5" cy="223.0" r="1.25"/><circle cx="216.8" cy="214.7" r="1.25"/><circle cx="210.4" cy="197.6" r="1.25"/><circle cx="215.5" cy="261.2" r="1.25"/><circle cx="213.4" cy="248.9" r="1.25"/><circle cx="215.0" cy="250.6" r="1.25"/><circle cx="218.2" cy="287.2" r="1.25"/><circle cx="198.0" cy="172.4" r="1.25"/><circle cx="215.1" cy="268.8" r="1.25"/><circle cx="207.9" cy="254.8" r="1.25"/><circle cx="206.6" cy="194.6" r="1.25"/><circle cx="207.6" cy="171.1" r="1.25"/><circle cx="219.7" cy="195.1" r="1.25"/><circle cx="195.1" cy="188.3" r="1.25"/><circle cx="230.5" cy="244.0" r="1.25"/><circle cx="217.8" cy="204.5" r="1.25"/><circle cx="240.7" cy="260.2" r="1.25"/><circle cx="236.2" cy="227.7" r="1.25"/><circle cx="188.2" cy="172.1" r="1.25"/><circle cx="237.3" cy="237.5" r="1.25"/><circle cx="191.8" cy="168.2" r="1.25"/><circle cx="225.3" cy="204.5" r="1.25"/><circle cx="210.2" cy="206.7" r="1.25"/><circle cx="216.3" cy="228.1" r="1.25"/><circle cx="218.6" cy="227.5" r="1.25"/><circle cx="210.1" cy="189.4" r="1.25"/><circle cx="220.7" cy="246.5" r="1.25"/><circle cx="190.6" cy="176.6" r="1.25"/><circle cx="230.4" cy="214.6" r="1.25"/><circle cx="209.9" cy="205.2" r="1.25"/><circle cx="217.2" cy="268.8" r="1.25"/><circle cx="213.6" cy="243.0" r="1.25"/><circle cx="217.9" cy="260.7" r="1.25"/><circle cx="230.9" cy="262.2" r="1.25"/><circle cx="194.7" cy="181.4" r="1.25"/><circle cx="210.3" cy="180.9" r="1.25"/><circle cx="223.2" cy="222.0" r="1.25"/><circle cx="201.1" cy="206.5" r="1.25"/><circle cx="207.7" cy="218.9" r="1.25"/><circle cx="188.1" cy="160.4" r="1.25"/><circle cx="212.8" cy="224.3" r="1.25"/><circle cx="224.2" cy="197.5" r="1.25"/><circle cx="237.8" cy="241.5" r="1.25"/><circle cx="229.3" cy="201.9" r="1.25"/><circle cx="195.5" cy="166.2" r="1.25"/><circle cx="218.5" cy="185.0" r="1.25"/><circle cx="225.1" cy="210.9" r="1.25"/><circle cx="232.4" cy="227.0" r="1.25"/><circle cx="207.6" cy="214.0" r="1.25"/><circle cx="217.3" cy="190.6" r="1.25"/><circle cx="216.4" cy="240.9" r="1.25"/><circle cx="221.8" cy="230.8" r="1.25"/><circle cx="195.5" cy="164.2" r="1.25"/><circle cx="217.1" cy="218.8" r="1.25"/><circle cx="213.5" cy="201.4" r="1.25"/><circle cx="204.8" cy="181.7" r="1.25"/><circle cx="226.1" cy="256.9" r="1.25"/><circle cx="225.6" cy="220.2" r="1.25"/><circle cx="207.6" cy="211.1" r="1.25"/><circle cx="207.0" cy="197.9" r="1.25"/><circle cx="216.6" cy="214.2" r="1.25"/><circle cx="205.2" cy="184.8" r="1.25"/><circle cx="216.2" cy="220.5" r="1.25"/><circle cx="211.9" cy="204.6" r="1.25"/><circle cx="225.7" cy="281.6" r="1.25"/><circle cx="224.9" cy="197.5" r="1.25"/><circle cx="191.1" cy="176.1" r="1.25"/><circle cx="203.1" cy="219.3" r="1.25"/><circle cx="242.8" cy="263.7" r="1.25"/><circle cx="229.1" cy="244.9" r="1.25"/><circle cx="226.6" cy="216.6" r="1.25"/><circle cx="211.6" cy="234.0" r="1.25"/><circle cx="205.1" cy="203.9" r="1.25"/><circle cx="188.2" cy="162.4" r="1.25"/><circle cx="222.8" cy="223.1" r="1.25"/><circle cx="218.3" cy="226.7" r="1.25"/><circle cx="219.3" cy="221.4" r="1.25"/><circle cx="225.7" cy="236.7" r="1.25"/><circle cx="202.3" cy="186.4" r="1.25"/><circle cx="221.9" cy="220.5" r="1.25"/><circle cx="207.6" cy="241.3" r="1.25"/><circle cx="248.7" cy="248.4" r="1.25"/><circle cx="202.1" cy="197.7" r="1.25"/><circle cx="219.9" cy="208.3" r="1.25"/><circle cx="208.8" cy="201.0" r="1.25"/><circle cx="222.0" cy="188.0" r="1.25"/><circle cx="217.4" cy="179.8" r="1.25"/><circle cx="231.5" cy="225.0" r="1.25"/><circle cx="192.3" cy="175.9" r="1.25"/><circle cx="211.1" cy="247.0" r="1.25"/></g><ellipse cx="227.8" cy="222.8" rx="93.1" ry="48.7" transform="rotate(55.6 227.8 222.8)" fill="none" stroke="#4a4a4a" stroke-width="1.1"/><line x1="50.4" y1="156.35" x2="509" y2="47.5" stroke="#656565" stroke-width="1.4" stroke-dasharray="4.1 2.51"/><text x="184.6" y="124.5" transform="rotate(-13.35 184.6 124.5)" font-family="Liberation Sans" font-size="7.8" text-anchor="middle" dominant-baseline="central" dy="-0.6" fill="#111" stroke="#111" stroke-width="0.35">WTP = 50000.0</text><line x1="47.6" y1="27.8" x2="47.6" y2="363.3" stroke="#707070" stroke-width="1.4"/><line x1="51" y1="366.6" x2="509" y2="366.6" stroke="#707070" stroke-width="1.4"/><g font-family="Liberation Sans" font-size="6.9" fill="#222" stroke="#222" stroke-width="0.15"><line x1="46.3" y1="27.5" x2="50.3" y2="27.5" stroke="#c8c8c8" stroke-width="0.8"/><text transform="translate(43.1 29.85) scale(0.87 1)" text-anchor="end">5000</text><line x1="46.3" y1="47.2" x2="50.3" y2="47.2" stroke="#c8c8c8" stroke-width="0.8"/><text transform="translate(43.1 49.60) scale(0.87 1)" text-anchor="end">4000</text><line x1="46.3" y1="67.0" x2="50.3" y2="67.0" stroke="#c8c8c8" stroke-width="0.8"/><text transform="translate(43.1 69.35) scale(0.87 1)" text-anchor="end">3000</text><line x1="46.3" y1="86.7" x2="50.3" y2="86.7" stroke="#c8c8c8" stroke-width="0.8"/><text transform="translate(43.1 89.10) scale(0.87 1)" text-anchor="end">2000</text><line x1="46.3" y1="106.5" x2="50.3" y2="106.5" stroke="#c8c8c8" stroke-width="0.8"/><text transform="translate(43.1 108.85) scale(0.87 1)" text-anchor="end">1000</text><line x1="46.3" y1="126.2" x2="50.3" y2="126.2" stroke="#c8c8c8" stroke-width="0.8"/><text transform="translate(43.1 128.60) scale(0.87 1)" text-anchor="end">0</text><line x1="46.3" y1="145.9" x2="50.3" y2="145.9" stroke="#c8c8c8" stroke-width="0.8"/><text transform="translate(43.1 148.35) scale(0.87 1)" text-anchor="end">-1000</text><line x1="46.3" y1="165.7" x2="50.3" y2="165.7" stroke="#c8c8c8" stroke-width="0.8"/><text transform="translate(43.1 168.10) scale(0.87 1)" text-anchor="end">-2000</text><line x1="46.3" y1="185.4" x2="50.3" y2="185.4" stroke="#c8c8c8" stroke-width="0.8"/><text transform="translate(43.1 187.85) scale(0.87 1)" text-anchor="end">-3000</text><line x1="46.3" y1="205.2" x2="50.3" y2="205.2" stroke="#c8c8c8" stroke-width="0.8"/><text transform="translate(43.1 207.60) scale(0.87 1)" text-anchor="end">-4000</text><line x1="46.3" y1="224.9" x2="50.3" y2="224.9" stroke="#c8c8c8" stroke-width="0.8"/><text transform="translate(43.1 227.35) scale(0.87 1)" text-anchor="end">-5000</text><line x1="46.3" y1="244.7" x2="50.3" y2="244.7" stroke="#c8c8c8" stroke-width="0.8"/><text transform="translate(43.1 247.10) scale(0.87 1)" text-anchor="end">-6000</text><line x1="46.3" y1="264.4" x2="50.3" y2="264.4" stroke="#c8c8c8" stroke-width="0.8"/><text transform="translate(43.1 266.85) scale(0.87 1)" text-anchor="end">-7000</text><line x1="46.3" y1="284.2" x2="50.3" y2="284.2" stroke="#c8c8c8" stroke-width="0.8"/><text transform="translate(43.1 286.60) scale(0.87 1)" text-anchor="end">-8000</text><line x1="46.3" y1="303.9" x2="50.3" y2="303.9" stroke="#c8c8c8" stroke-width="0.8"/><text transform="translate(43.1 306.35) scale(0.87 1)" text-anchor="end">-9000</text><line x1="46.3" y1="323.7" x2="50.3" y2="323.7" stroke="#c8c8c8" stroke-width="0.8"/><text transform="translate(43.1 326.10) scale(0.87 1)" text-anchor="end">-10000</text><line x1="46.3" y1="343.4" x2="50.3" y2="343.4" stroke="#c8c8c8" stroke-width="0.8"/><text transform="translate(43.1 345.85) scale(0.87 1)" text-anchor="end">-11000</text><line x1="46.3" y1="363.2" x2="50.3" y2="363.2" stroke="#c8c8c8" stroke-width="0.8"/><text transform="translate(43.1 365.60) scale(0.87 1)" text-anchor="end">-12000</text><line x1="50.6" y1="363.5" x2="50.6" y2="367.5" stroke="#c8c8c8" stroke-width="0.8"/><text transform="translate(49.90 374.8) scale(0.87 1)" text-anchor="middle">-0.030</text><line x1="92.2" y1="363.5" x2="92.2" y2="367.5" stroke="#c8c8c8" stroke-width="0.8"/><text transform="translate(91.50 374.8) scale(0.87 1)" text-anchor="middle">-0.020</text><line x1="133.8" y1="363.5" x2="133.8" y2="367.5" stroke="#c8c8c8" stroke-width="0.8"/><text transform="translate(133.10 374.8) scale(0.87 1)" text-anchor="middle">-0.010</text><line x1="175.4" y1="363.5" x2="175.4" y2="367.5" stroke="#c8c8c8" stroke-width="0.8"/><text transform="translate(174.70 374.8) scale(0.87 1)" text-anchor="middle">0.000</text><line x1="217.0" y1="363.5" x2="217.0" y2="367.5" stroke="#c8c8c8" stroke-width="0.8"/><text transform="translate(216.30 374.8) scale(0.87 1)" text-anchor="middle">0.010</text><line x1="258.6" y1="363.5" x2="258.6" y2="367.5" stroke="#c8c8c8" stroke-width="0.8"/><text transform="translate(257.90 374.8) scale(0.87 1)" text-anchor="middle">0.020</text><line x1="300.2" y1="363.5" x2="300.2" y2="367.5" stroke="#c8c8c8" stroke-width="0.8"/><text transform="translate(299.50 374.8) scale(0.87 1)" text-anchor="middle">0.030</text><line x1="341.8" y1="363.5" x2="341.8" y2="367.5" stroke="#c8c8c8" stroke-width="0.8"/><text transform="translate(341.10 374.8) scale(0.87 1)" text-anchor="middle">0.040</text><line x1="383.4" y1="363.5" x2="383.4" y2="367.5" stroke="#c8c8c8" stroke-width="0.8"/><text transform="translate(382.70 374.8) scale(0.87 1)" text-anchor="middle">0.050</text><line x1="425.0" y1="363.5" x2="425.0" y2="367.5" stroke="#c8c8c8" stroke-width="0.8"/><text transform="translate(424.30 374.8) scale(0.87 1)" text-anchor="middle">0.060</text><line x1="466.6" y1="363.5" x2="466.6" y2="367.5" stroke="#c8c8c8" stroke-width="0.8"/><text transform="translate(465.90 374.8) scale(0.87 1)" text-anchor="middle">0.070</text><line x1="508.2" y1="363.5" x2="508.2" y2="367.5" stroke="#c8c8c8" stroke-width="0.8"/><text transform="translate(507.50 374.8) scale(0.87 1)" text-anchor="middle">0.080</text></g><text x="260.2" y="14.4" text-anchor="middle" font-family="Liberation Serif" font-weight="bold" font-size="10.4" fill="#111">Incremental Cost-Effectiveness - No G-CSF vs. G-CSF Secondary Prophylaxis</text><text x="278.9" y="383.8" text-anchor="middle" font-family="Liberation Serif" font-weight="bold" font-size="9.1" fill="#111">Incremental Effectiveness</text><text x="11" y="196.2" transform="rotate(-90 11 196.2)" text-anchor="middle" font-family="Liberation Serif" font-weight="bold" font-size="9.3" fill="#111">Incremental Cost</text></svg></body></html>
